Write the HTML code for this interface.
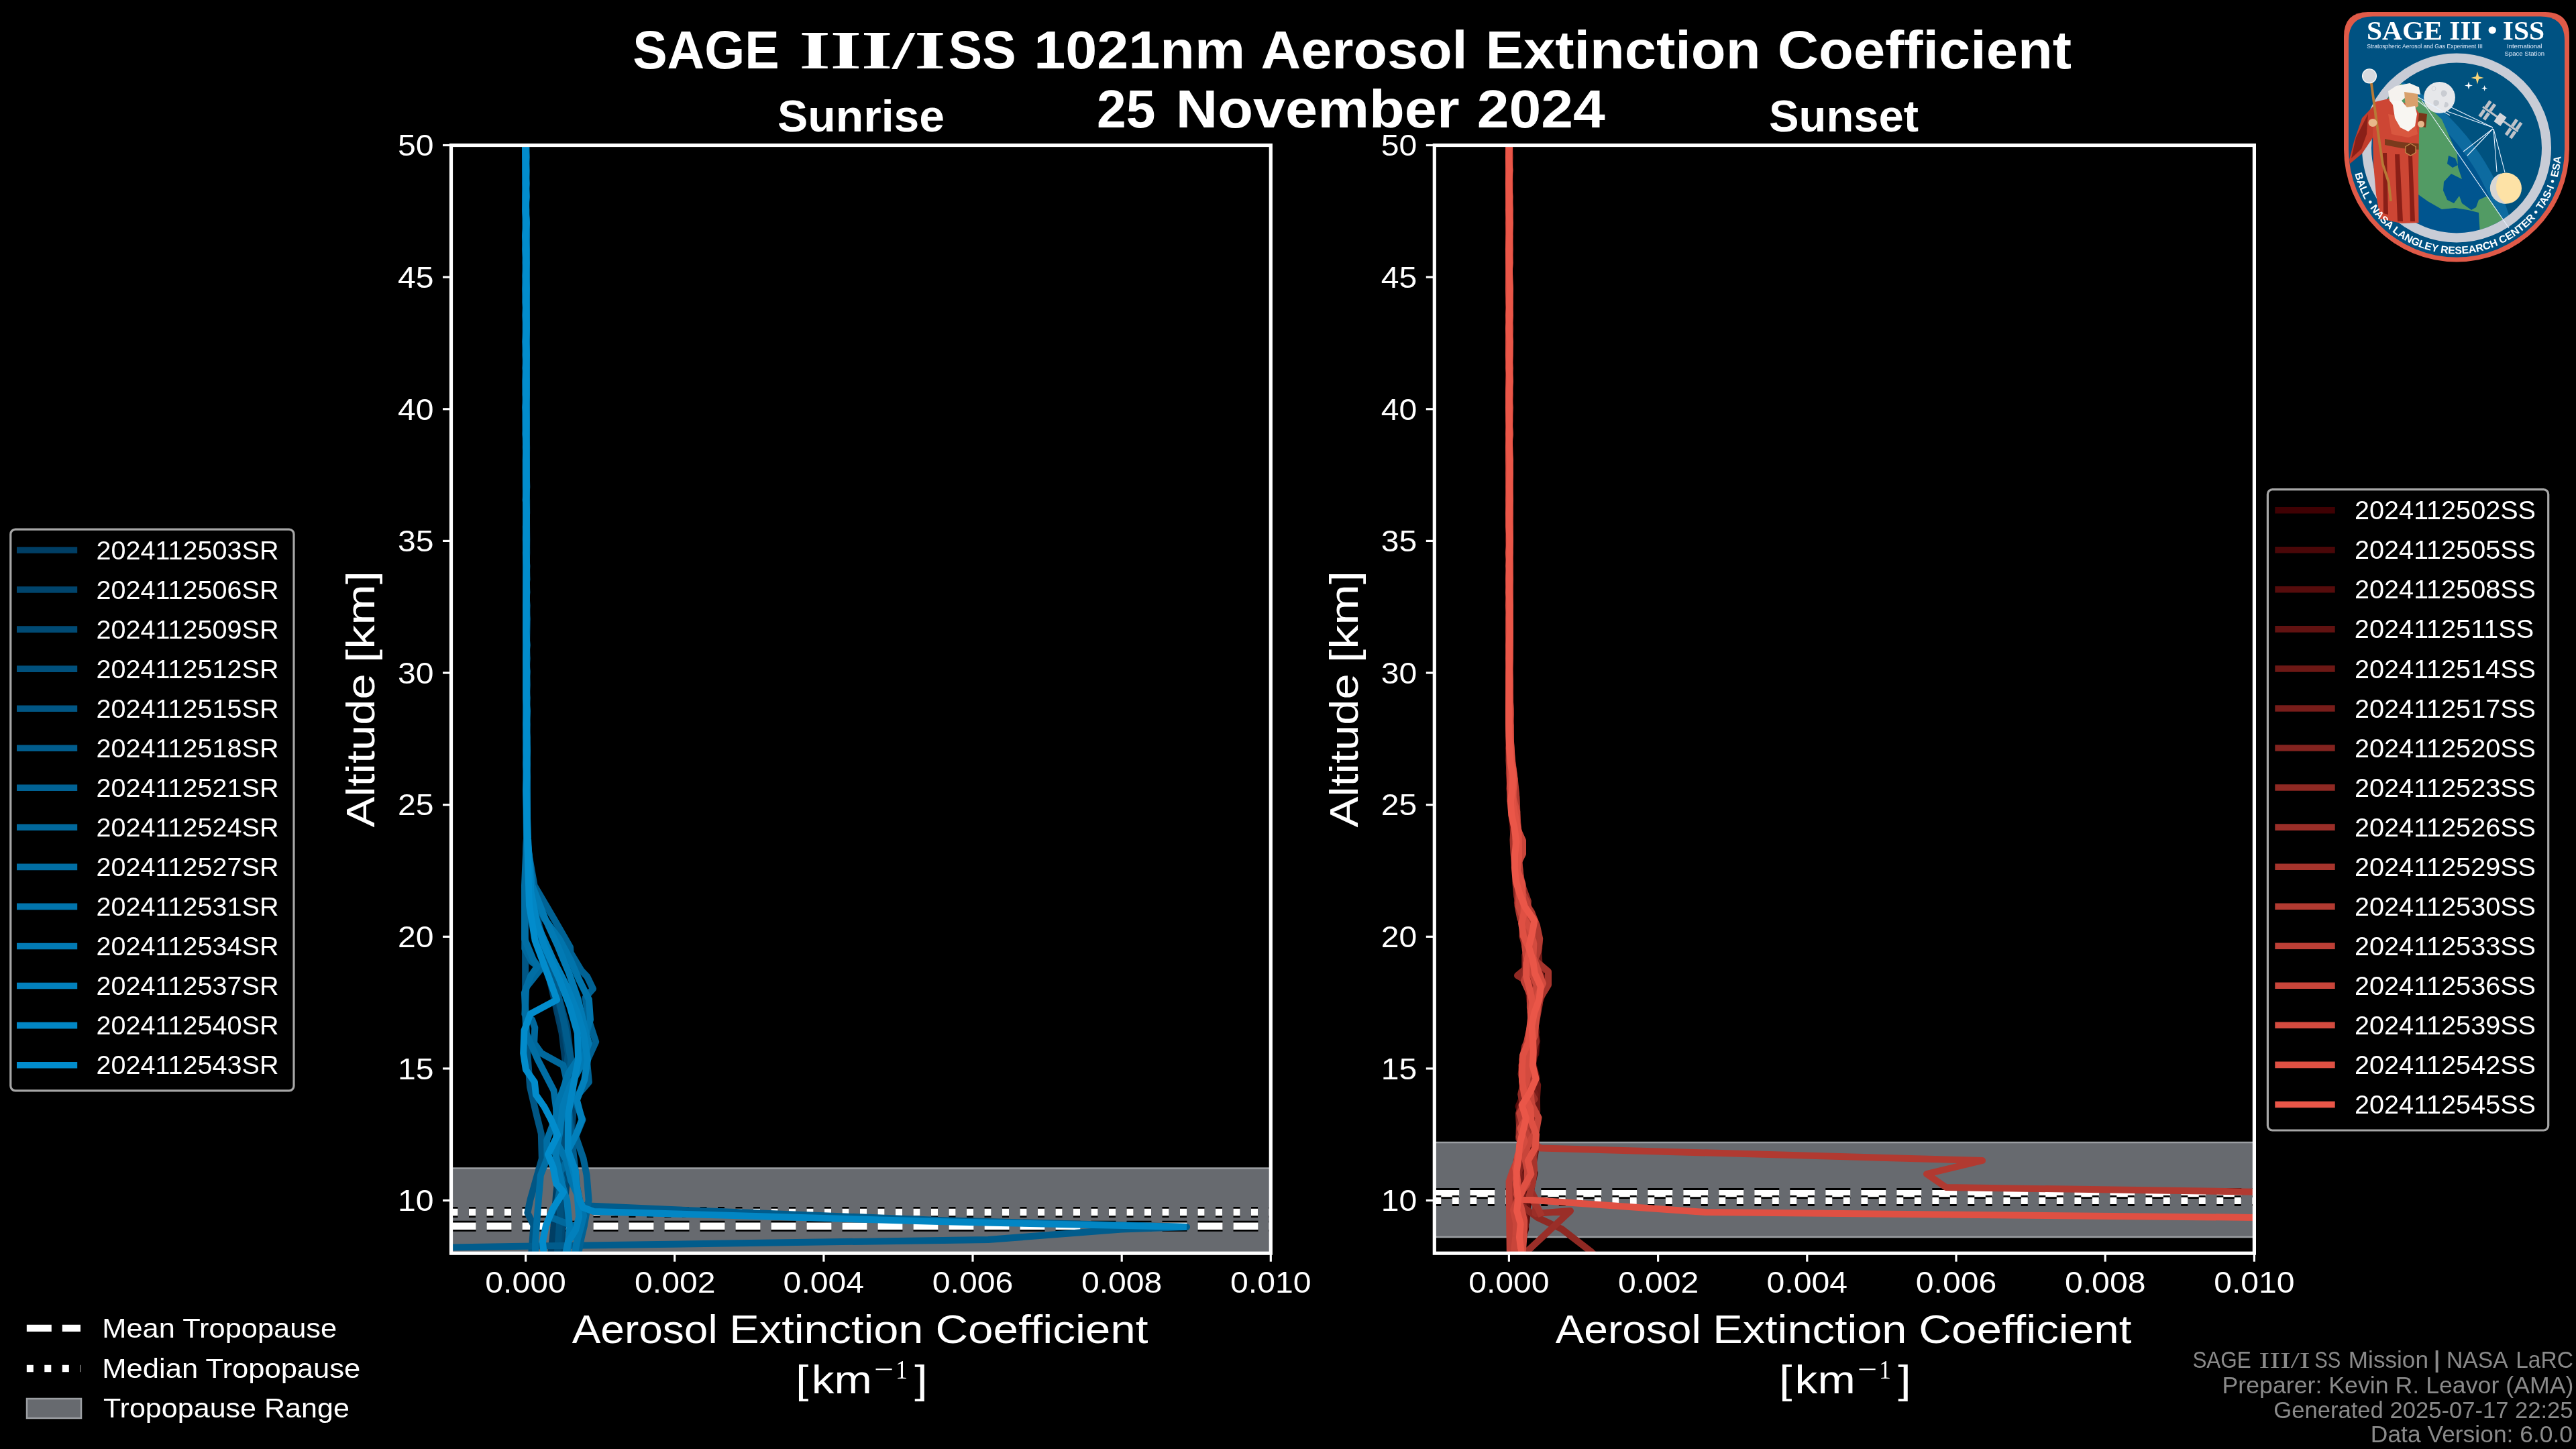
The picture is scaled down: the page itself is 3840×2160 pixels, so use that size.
<!DOCTYPE html>
<html><head><meta charset="utf-8"><title>SAGE III/ISS 1021nm Aerosol Extinction Coefficient</title>
<style>html,body{margin:0;padding:0;background:#000;width:3840px;height:2160px;overflow:hidden}
</style></head>
<body>
<svg width="3840" height="2160" viewBox="0 0 3840 2160" style="display:block;will-change:transform">
<rect width="3840" height="2160" fill="#000"/>
<clipPath id="clip0"><rect x="672.5" y="216.5" width="1221.8" height="1651.7"/></clipPath>
<clipPath id="clip1"><rect x="2138.3" y="216.5" width="1222.1" height="1651.7"/></clipPath>
<g clip-path="url(#clip0)">
<rect x="672.5" y="1741.5" width="1221.8" height="136.70000000000005" fill="#676a6f"/>
<line x1="672.5" x2="1894.3" y1="1741.5" y2="1741.5" stroke="#9c9fa3" stroke-width="2.5"/>
<line x1="672.5" x2="1894.3" y1="1827.7" y2="1827.7" stroke="#000" stroke-width="16" stroke-dasharray="37 16"/><line x1="672.5" x2="1894.3" y1="1827.7" y2="1827.7" stroke="#fff" stroke-width="10.4" stroke-dasharray="37 16"/>
<line x1="672.5" x2="1894.3" y1="1807.0" y2="1807.0" stroke="#000" stroke-width="16" stroke-dasharray="10 16.5"/><line x1="672.5" x2="1894.3" y1="1807.0" y2="1807.0" stroke="#fff" stroke-width="10.4" stroke-dasharray="10 16.5"/>
</g>
<g clip-path="url(#clip1)">
<rect x="2138.3" y="1703.0" width="1222.1" height="141.0" fill="#676a6f"/>
<line x1="2138.3" x2="3360.4" y1="1703.0" y2="1703.0" stroke="#9c9fa3" stroke-width="2.5"/>
<line x1="2138.3" x2="3360.4" y1="1844.0" y2="1844.0" stroke="#9c9fa3" stroke-width="2.5"/>
<line x1="2138.3" x2="3360.4" y1="1779.1" y2="1779.1" stroke="#000" stroke-width="16" stroke-dasharray="37 16"/><line x1="2138.3" x2="3360.4" y1="1779.1" y2="1779.1" stroke="#fff" stroke-width="10.4" stroke-dasharray="37 16"/>
<line x1="2138.3" x2="3360.4" y1="1789.9" y2="1789.9" stroke="#000" stroke-width="16" stroke-dasharray="10 16.5"/><line x1="2138.3" x2="3360.4" y1="1789.9" y2="1789.9" stroke="#fff" stroke-width="10.4" stroke-dasharray="10 16.5"/>
</g>
<g clip-path="url(#clip0)">
<polyline points="784.3,214.5 784.5,234.2 784.0,253.8 783.6,273.5 784.3,293.2 783.8,312.8 784.4,332.5 783.8,352.1 784.1,371.8 784.5,391.5 783.4,411.1 783.9,430.8 784.0,450.5 783.9,470.1 784.8,489.8 783.6,509.4 784.2,529.1 784.0,548.8 783.8,568.4 783.8,588.1 784.9,607.8 784.2,627.4 785.0,647.1 784.2,666.8 784.2,686.4 784.0,706.1 783.9,725.7 783.8,745.4 784.9,765.1 785.1,784.7 785.2,804.4 784.9,824.1 785.1,843.7 784.8,863.4 784.6,883.0 785.3,902.7 784.8,922.4 784.3,942.0 784.8,961.7 785.3,981.4 785.1,1001.0 784.8,1020.7 785.2,1040.4 784.5,1060.0 785.1,1079.7 785.1,1099.3 784.3,1119.0 785.6,1138.7 785.5,1158.3 785.4,1178.0 786.0,1260.0 795.7,1350.0 810.4,1420.0 824.0,1480.0 837.6,1540.0 844.9,1600.0 842.1,1660.0 836.1,1720.0 829.1,1780.0 825.4,1830.0 820.0,1880.0" fill="none" stroke="#003e64" stroke-width="10" stroke-linejoin="round" stroke-linecap="butt" />
<polyline points="784.0,214.5 784.1,234.2 783.5,253.8 784.4,273.5 783.7,293.2 783.8,312.8 784.3,332.5 783.8,352.1 784.7,371.8 784.0,391.5 783.9,411.1 783.4,430.8 784.5,450.5 783.8,470.1 784.1,489.8 784.5,509.4 784.2,529.1 784.9,548.8 784.1,568.4 784.1,588.1 783.8,607.8 783.7,627.4 783.8,647.1 784.5,666.8 783.9,686.4 784.4,706.1 784.0,725.7 784.9,745.4 783.9,765.1 784.9,784.7 785.2,804.4 785.2,824.1 784.6,843.7 785.1,863.4 784.2,883.0 785.3,902.7 785.4,922.4 785.0,942.0 785.4,961.7 784.9,981.4 785.4,1001.0 784.7,1020.7 784.2,1040.4 784.4,1060.0 785.4,1079.7 785.4,1099.3 784.8,1119.0 785.3,1138.7 785.5,1158.3 784.8,1178.0 786.0,1260.0 793.7,1340.0 804.9,1400.0 820.6,1460.0 835.9,1520.0 849.0,1580.0 856.0,1640.0 850.7,1700.0 844.8,1760.0 839.7,1820.0 835.0,1880.0" fill="none" stroke="#00446c" stroke-width="10" stroke-linejoin="round" stroke-linecap="butt" />
<polyline points="783.9,214.5 783.4,234.2 783.7,253.8 784.4,273.5 784.2,293.2 783.5,312.8 784.5,332.5 784.5,352.1 783.4,371.8 784.3,391.5 783.9,411.1 783.5,430.8 783.9,450.5 784.4,470.1 783.6,489.8 784.0,509.4 784.5,529.1 783.9,548.8 784.8,568.4 784.4,588.1 784.5,607.8 783.7,627.4 783.8,647.1 784.5,666.8 784.0,686.4 784.5,706.1 785.0,725.7 784.6,745.4 784.4,765.1 784.0,784.7 784.0,804.4 784.2,824.1 785.2,843.7 785.0,863.4 784.2,883.0 784.0,902.7 785.4,922.4 785.4,942.0 784.8,961.7 784.4,981.4 784.8,1001.0 785.4,1020.7 784.5,1040.4 785.3,1060.0 784.9,1079.7 785.0,1099.3 785.5,1119.0 784.3,1138.7 784.7,1158.3 784.4,1178.0 786.0,1260.0 792.1,1330.0 803.8,1380.0 817.3,1430.0 831.1,1480.0 845.0,1530.0 852.3,1590.0 846.3,1650.0 840.5,1710.0 841.8,1770.0 836.9,1830.0 832.0,1880.0" fill="none" stroke="#004a74" stroke-width="10" stroke-linejoin="round" stroke-linecap="butt" />
<polyline points="783.4,214.5 783.7,234.2 783.5,253.8 783.7,273.5 784.5,293.2 783.3,312.8 784.4,332.5 784.3,352.1 783.4,371.8 783.4,391.5 784.2,411.1 784.7,430.8 784.0,450.5 784.5,470.1 784.6,489.8 784.9,509.4 784.4,529.1 784.1,548.8 784.6,568.4 784.4,588.1 784.3,607.8 784.8,627.4 784.3,647.1 784.6,666.8 784.7,686.4 785.0,706.1 784.0,725.7 784.9,745.4 785.1,765.1 783.9,784.7 784.2,804.4 784.6,824.1 784.5,843.7 785.2,863.4 784.0,883.0 784.0,902.7 785.2,922.4 785.0,942.0 784.7,961.7 784.5,981.4 784.8,1001.0 785.4,1020.7 785.2,1040.4 784.8,1060.0 784.4,1079.7 784.7,1099.3 784.9,1119.0 785.3,1138.7 785.5,1158.3 785.3,1178.0 786.0,1260.0 790.0,1320.0 798.7,1370.0 812.5,1420.0 825.9,1470.0 839.9,1520.0 846.9,1570.0 841.6,1630.0 835.9,1690.0 831.9,1750.0 835.0,1810.0 830.0,1880.0" fill="none" stroke="#00507c" stroke-width="10" stroke-linejoin="round" stroke-linecap="butt" />
<polyline points="783.8,214.5 784.0,234.2 784.3,253.8 784.3,273.5 783.5,293.2 783.5,312.8 784.3,332.5 784.3,352.1 784.2,371.8 784.7,391.5 784.2,411.1 783.8,430.8 783.9,450.5 783.5,470.1 784.6,489.8 784.1,509.4 784.2,529.1 783.8,548.8 784.9,568.4 784.2,588.1 783.7,607.8 784.7,627.4 784.7,647.1 783.8,666.8 784.7,686.4 784.0,706.1 784.1,725.7 785.1,745.4 785.1,765.1 783.9,784.7 784.0,804.4 784.4,824.1 784.1,843.7 785.0,863.4 784.1,883.0 784.3,902.7 784.9,922.4 784.6,942.0 785.0,961.7 784.5,981.4 785.3,1001.0 785.1,1020.7 784.8,1040.4 785.1,1060.0 785.0,1079.7 784.9,1099.3 785.6,1119.0 785.4,1138.7 785.2,1158.3 785.6,1178.0 785.0,1250.0 782.8,1330.0 783.1,1420.0 783.3,1500.0 785.5,1560.0 790.0,1620.0 799.3,1660.0 806.8,1690.0 807.8,1727.0 790.3,1789.0 786.4,1808.0 795.5,1826.6 792.5,1864.0 792.0,1880.0" fill="none" stroke="#015684" stroke-width="10" stroke-linejoin="round" stroke-linecap="butt" />
<polyline points="783.4,214.5 784.4,234.2 783.6,253.8 784.2,273.5 783.7,293.2 784.4,312.8 784.2,332.5 783.4,352.1 784.7,371.8 784.5,391.5 784.0,411.1 784.2,430.8 784.4,450.5 784.5,470.1 784.7,489.8 784.9,509.4 784.8,529.1 783.9,548.8 783.6,568.4 784.0,588.1 783.9,607.8 784.7,627.4 784.7,647.1 785.1,666.8 784.9,686.4 784.8,706.1 785.1,725.7 784.8,745.4 784.3,765.1 784.9,784.7 785.0,804.4 784.3,824.1 784.2,843.7 784.2,863.4 784.0,883.0 785.0,902.7 785.4,922.4 785.1,942.0 784.9,961.7 785.3,981.4 784.7,1001.0 784.6,1020.7 784.1,1040.4 784.4,1060.0 785.1,1079.7 784.8,1099.3 785.6,1119.0 784.3,1138.7 785.5,1158.3 785.4,1178.0 786.0,1260.0 791.0,1330.0 802.0,1380.0 815.1,1430.0 830.9,1480.0 842.2,1530.0 851.2,1580.0 845.7,1630.0 850.4,1680.0 856.0,1730.0 860.2,1770.0 865.6,1797.0 1000.0,1803.0 1400.0,1819.0 1769.0,1829.0 1672.0,1832.5 1473.0,1848.0 560.0,1861.0" fill="none" stroke="#015c8c" stroke-width="10" stroke-linejoin="round" stroke-linecap="butt" />
<polyline points="784.2,214.5 783.9,234.2 783.7,253.8 783.8,273.5 783.6,293.2 783.6,312.8 784.0,332.5 784.3,352.1 784.5,371.8 784.0,391.5 784.7,411.1 783.6,430.8 784.8,450.5 784.6,470.1 784.7,489.8 783.7,509.4 784.4,529.1 784.6,548.8 784.8,568.4 784.7,588.1 783.7,607.8 784.5,627.4 783.8,647.1 784.9,666.8 784.8,686.4 784.4,706.1 785.0,725.7 783.9,745.4 784.5,765.1 784.0,784.7 784.9,804.4 785.1,824.1 784.6,843.7 785.0,863.4 784.0,883.0 784.2,902.7 784.1,922.4 784.6,942.0 784.9,961.7 785.3,981.4 784.6,1001.0 784.8,1020.7 785.1,1040.4 784.5,1060.0 784.9,1079.7 784.6,1099.3 784.8,1119.0 785.1,1138.7 784.9,1158.3 785.1,1178.0 786.0,1260.0 796.6,1320.0 814.3,1350.0 828.8,1375.0 850.0,1412.0 850.6,1420.0 866.8,1447.0 875.3,1456.0 884.0,1474.0 872.6,1487.0 877.5,1520.0 888.2,1553.0 875.0,1582.0 877.9,1613.0 856.5,1638.0 868.5,1669.0 858.2,1694.0 869.6,1727.0 874.6,1752.0 877.6,1789.0 870.9,1827.0 866.7,1845.0 860.0,1880.0" fill="none" stroke="#016294" stroke-width="10" stroke-linejoin="round" stroke-linecap="butt" />
<polyline points="783.8,214.5 784.0,234.2 784.5,253.8 783.9,273.5 783.6,293.2 783.8,312.8 784.6,332.5 784.2,352.1 784.6,371.8 783.9,391.5 784.4,411.1 784.7,430.8 783.6,450.5 784.6,470.1 784.7,489.8 784.9,509.4 783.7,529.1 783.8,548.8 784.9,568.4 784.2,588.1 784.0,607.8 784.6,627.4 784.1,647.1 784.2,666.8 784.3,686.4 784.0,706.1 784.9,725.7 784.7,745.4 784.0,765.1 784.1,784.7 783.9,804.4 784.5,824.1 784.9,843.7 784.6,863.4 784.2,883.0 784.8,902.7 785.0,922.4 784.0,942.0 784.2,961.7 784.6,981.4 784.7,1001.0 784.9,1020.7 785.0,1040.4 784.7,1060.0 785.0,1079.7 784.9,1099.3 784.3,1119.0 784.5,1138.7 784.7,1158.3 784.9,1178.0 785.0,1250.0 783.9,1300.0 782.7,1350.0 782.2,1414.0 792.9,1434.0 806.6,1444.0 784.3,1472.0 782.3,1512.0 793.1,1520.0 797.3,1532.0 796.1,1555.0 806.9,1570.0 839.5,1588.0 847.0,1620.0 838.9,1660.0 829.8,1700.0 828.3,1702.0 845.0,1730.0 835.0,1748.0 838.1,1760.0 831.0,1790.0 819.3,1814.0 852.9,1827.0 861.1,1850.0 855.0,1880.0" fill="none" stroke="#01689c" stroke-width="10" stroke-linejoin="round" stroke-linecap="butt" />
<polyline points="783.9,214.5 784.1,234.2 783.9,253.8 783.4,273.5 783.8,293.2 783.4,312.8 784.2,332.5 783.8,352.1 784.6,371.8 784.2,391.5 784.4,411.1 783.9,430.8 784.2,450.5 784.7,470.1 784.0,489.8 784.7,509.4 784.9,529.1 784.0,548.8 784.6,568.4 783.8,588.1 784.9,607.8 784.7,627.4 783.7,647.1 784.6,666.8 784.0,686.4 784.9,706.1 784.5,725.7 784.5,745.4 784.2,765.1 784.2,784.7 784.8,804.4 783.9,824.1 784.3,843.7 784.6,863.4 785.2,883.0 784.1,902.7 784.1,922.4 784.5,942.0 785.3,961.7 784.2,981.4 785.2,1001.0 785.4,1020.7 784.9,1040.4 784.6,1060.0 785.5,1079.7 784.8,1099.3 784.4,1119.0 785.5,1138.7 784.6,1158.3 784.4,1178.0 785.0,1250.0 782.0,1320.0 782.1,1400.0 794.6,1430.0 801.5,1440.0 791.0,1455.0 781.9,1480.0 784.4,1540.0 801.8,1580.0 825.5,1625.6 830.2,1660.0 815.1,1700.0 815.6,1727.0 805.8,1752.0 801.7,1802.0 798.1,1851.5 798.0,1880.0" fill="none" stroke="#016ea4" stroke-width="10" stroke-linejoin="round" stroke-linecap="butt" />
<polyline points="784.1,214.5 784.5,234.2 783.5,253.8 783.5,273.5 783.4,293.2 784.1,312.8 784.1,332.5 784.3,352.1 784.3,371.8 783.8,391.5 783.8,411.1 784.7,430.8 784.3,450.5 783.5,470.1 783.9,489.8 783.8,509.4 784.1,529.1 783.9,548.8 783.6,568.4 783.8,588.1 784.3,607.8 784.3,627.4 784.3,647.1 784.4,666.8 784.6,686.4 784.8,706.1 785.2,725.7 784.1,745.4 784.6,765.1 784.1,784.7 783.9,804.4 784.1,824.1 784.3,843.7 784.9,863.4 785.2,883.0 784.5,902.7 785.0,922.4 784.5,942.0 784.4,961.7 784.4,981.4 785.3,1001.0 784.4,1020.7 784.9,1040.4 785.5,1060.0 784.8,1079.7 785.2,1099.3 785.5,1119.0 784.8,1138.7 784.9,1158.3 785.5,1178.0 786.0,1260.0 794.2,1330.0 812.0,1370.0 834.0,1400.0 850.1,1430.0 863.0,1460.0 877.9,1490.0 880.0,1520.0 870.8,1550.0 860.7,1580.0 847.3,1600.0 839.0,1625.0 829.3,1650.0 829.2,1702.0 844.4,1730.0 851.2,1760.0 862.6,1785.0 870.2,1812.0 865.9,1830.0 860.0,1850.0 855.0,1880.0" fill="none" stroke="#0174ac" stroke-width="10" stroke-linejoin="round" stroke-linecap="butt" />
<polyline points="784.1,214.5 783.9,234.2 784.3,253.8 783.8,273.5 784.3,293.2 783.5,312.8 784.5,332.5 784.6,352.1 784.2,371.8 784.1,391.5 783.6,411.1 784.4,430.8 784.7,450.5 784.8,470.1 784.1,489.8 783.8,509.4 784.7,529.1 784.3,548.8 784.2,568.4 784.4,588.1 783.8,607.8 784.8,627.4 784.9,647.1 784.3,666.8 784.5,686.4 784.7,706.1 784.9,725.7 785.0,745.4 784.7,765.1 784.6,784.7 784.6,804.4 784.6,824.1 784.5,843.7 784.9,863.4 784.3,883.0 784.0,902.7 784.2,922.4 784.3,942.0 784.3,961.7 784.4,981.4 784.3,1001.0 784.2,1020.7 785.2,1040.4 784.8,1060.0 784.2,1079.7 784.6,1099.3 784.9,1119.0 784.4,1138.7 785.6,1158.3 785.4,1178.0 786.0,1250.0 793.4,1320.0 812.9,1370.0 831.4,1410.0 848.0,1450.0 861.8,1490.0 871.2,1530.0 877.8,1555.0 865.5,1590.0 849.3,1620.0 838.8,1650.0 834.0,1690.0 828.0,1720.0 836.2,1760.0 845.2,1790.0 849.2,1830.0 845.0,1880.0" fill="none" stroke="#027ab4" stroke-width="10" stroke-linejoin="round" stroke-linecap="butt" />
<polyline points="783.3,214.5 783.3,234.2 783.5,253.8 784.3,273.5 783.5,293.2 783.7,312.8 784.5,332.5 783.5,352.1 784.1,371.8 784.5,391.5 783.8,411.1 783.5,430.8 783.5,450.5 784.6,470.1 784.1,489.8 783.6,509.4 783.6,529.1 784.8,548.8 784.7,568.4 785.0,588.1 784.5,607.8 784.7,627.4 784.5,647.1 784.2,666.8 783.8,686.4 783.8,706.1 783.9,725.7 784.2,745.4 784.3,765.1 784.2,784.7 784.6,804.4 784.6,824.1 784.9,843.7 785.3,863.4 784.1,883.0 784.5,902.7 785.2,922.4 784.2,942.0 784.1,961.7 785.2,981.4 784.6,1001.0 784.2,1020.7 784.2,1040.4 785.5,1060.0 785.1,1079.7 784.4,1099.3 785.6,1119.0 785.0,1138.7 785.3,1158.3 785.1,1178.0 786.0,1250.0 789.7,1330.0 801.9,1380.0 824.2,1430.0 844.9,1470.0 860.7,1510.0 869.9,1540.0 876.0,1580.0 871.2,1610.0 859.9,1640.0 867.5,1669.0 857.7,1694.0 846.7,1715.0 859.3,1764.0 863.1,1814.0 858.3,1833.0 846.8,1851.5 840.7,1880.0" fill="none" stroke="#0280bc" stroke-width="10" stroke-linejoin="round" stroke-linecap="butt" />
<polyline points="783.2,214.5 783.8,234.2 783.7,253.8 783.8,273.5 784.5,293.2 783.8,312.8 783.5,332.5 783.7,352.1 783.3,371.8 784.4,391.5 784.1,411.1 784.0,430.8 784.2,450.5 784.5,470.1 784.7,489.8 783.9,509.4 784.7,529.1 783.7,548.8 784.8,568.4 784.5,588.1 783.7,607.8 783.7,627.4 784.0,647.1 784.7,666.8 784.3,686.4 784.4,706.1 784.6,725.7 783.8,745.4 785.0,765.1 785.0,784.7 784.9,804.4 784.5,824.1 785.0,843.7 784.7,863.4 784.5,883.0 785.3,902.7 784.3,922.4 784.2,942.0 784.7,961.7 784.2,981.4 784.2,1001.0 784.6,1020.7 785.4,1040.4 785.1,1060.0 784.4,1079.7 785.4,1099.3 785.5,1119.0 785.4,1138.7 785.0,1158.3 784.6,1178.0 787.0,1250.0 791.6,1330.0 799.1,1370.0 811.3,1410.0 833.9,1460.0 849.4,1500.0 860.8,1540.0 862.1,1580.0 854.3,1620.0 847.2,1660.0 846.8,1700.0 846.8,1715.0 858.0,1746.0 858.9,1764.5 863.9,1789.0 869.1,1800.0 885.0,1806.0 1400.0,1821.0 1769.0,1829.0" fill="none" stroke="#0286c4" stroke-width="10" stroke-linejoin="round" stroke-linecap="butt" />
<polyline points="783.2,214.5 783.4,234.2 784.1,253.8 784.2,273.5 784.1,293.2 783.7,312.8 784.6,332.5 783.3,352.1 784.3,371.8 784.4,391.5 784.4,411.1 784.7,430.8 784.2,450.5 784.2,470.1 784.8,489.8 784.0,509.4 784.7,529.1 784.5,548.8 783.8,568.4 783.7,588.1 783.7,607.8 784.0,627.4 783.8,647.1 784.0,666.8 784.5,686.4 784.5,706.1 784.8,725.7 784.0,745.4 785.0,765.1 784.4,784.7 784.5,804.4 784.2,824.1 785.2,843.7 784.5,863.4 785.1,883.0 784.0,902.7 784.5,922.4 784.2,942.0 785.4,961.7 784.2,981.4 785.2,1001.0 784.7,1020.7 784.6,1040.4 785.4,1060.0 785.1,1079.7 785.4,1099.3 785.0,1119.0 785.2,1138.7 785.2,1158.3 784.4,1178.0 786.0,1250.0 789.0,1350.0 797.6,1402.0 817.5,1455.6 830.1,1490.4 790.6,1511.5 781.5,1536.0 780.2,1570.0 783.9,1594.5 796.9,1613.0 798.9,1632.0 811.4,1650.0 821.4,1669.0 831.3,1692.0 817.0,1721.0 824.5,1740.0 829.2,1764.5 840.0,1777.0 824.1,1801.8 814.0,1826.6 808.9,1851.5 812.0,1880.0" fill="none" stroke="#028ccc" stroke-width="10" stroke-linejoin="round" stroke-linecap="butt" />
</g>
<g clip-path="url(#clip1)">
<polyline points="2249.1,214.5 2249.2,234.2 2250.1,253.8 2250.4,273.5 2250.0,293.2 2249.5,312.8 2248.9,332.5 2250.4,352.1 2249.1,371.8 2249.2,391.5 2249.4,411.1 2249.6,430.8 2250.5,450.5 2249.5,470.1 2250.1,489.8 2250.1,509.4 2249.6,529.1 2249.6,548.8 2249.8,568.4 2249.2,588.1 2250.0,607.8 2249.2,627.4 2250.1,647.1 2250.6,666.8 2250.7,686.4 2250.1,706.1 2249.9,725.7 2250.0,745.4 2250.2,765.1 2250.7,784.7 2249.5,804.4 2250.8,824.1 2250.8,843.7 2249.9,863.4 2250.5,883.0 2250.0,902.7 2250.5,922.4 2250.8,942.0 2249.8,961.7 2249.9,981.4 2250.3,1006.1 2249.9,1025.8 2250.3,1045.5 2249.6,1065.1 2250.0,1084.8 2250.0,1104.5 2249.5,1124.1 2250.2,1143.8 2250.3,1163.4 2251.2,1183.1 2255.6,1202.8 2259.1,1222.4 2258.9,1242.1 2260.8,1261.8 2261.1,1281.4 2260.5,1301.1 2266.1,1320.7 2270.5,1340.4 2283.6,1360.1 2284.5,1379.7 2294.4,1399.4 2291.1,1419.1 2285.7,1438.7 2296.3,1458.4 2294.1,1478.1 2295.3,1497.7 2289.2,1517.4 2284.2,1537.0 2275.2,1556.7 2277.8,1576.4 2274.2,1596.0 2269.1,1615.7 2270.4,1635.4 2280.2,1655.0 2268.2,1674.7 2276.3,1694.3 2274.2,1714.0 2271.6,1733.7 2269.0,1753.3 2270.3,1773.0 2277.7,1792.7 2274.1,1812.3 2274.2,1832.0 2268.5,1851.7 2268.3,1871.3" fill="none" stroke="#3f0103" stroke-width="10" stroke-linejoin="round" stroke-linecap="butt" />
<polyline points="2250.2,214.5 2249.7,234.2 2249.1,253.8 2249.9,273.5 2249.3,293.2 2249.8,312.8 2250.7,332.5 2249.9,352.1 2249.0,371.8 2249.3,391.5 2250.6,411.1 2249.2,430.8 2249.7,450.5 2249.1,470.1 2249.6,489.8 2249.7,509.4 2250.8,529.1 2250.7,548.8 2249.2,568.4 2250.4,588.1 2249.5,607.8 2250.0,627.4 2250.0,647.1 2250.1,666.8 2250.1,686.4 2249.9,706.1 2249.9,725.7 2249.9,745.4 2249.5,765.1 2249.5,784.7 2249.2,804.4 2250.4,824.1 2250.9,843.7 2251.0,863.4 2250.5,883.0 2250.5,902.7 2250.6,922.4 2250.7,942.0 2249.7,961.7 2250.2,981.4 2250.3,1001.0 2251.1,1020.6 2251.2,1040.3 2251.1,1060.0 2251.3,1079.6 2251.1,1099.3 2251.9,1119.0 2255.0,1138.6 2256.9,1158.3 2258.0,1177.9 2260.4,1197.6 2260.6,1217.3 2260.5,1236.9 2258.8,1256.6 2259.6,1276.3 2259.9,1295.9 2260.0,1315.6 2264.2,1335.3 2267.6,1354.9 2274.0,1374.6 2290.5,1394.2 2294.3,1413.9 2289.0,1433.6 2280.3,1453.2 2278.1,1472.9 2280.4,1492.6 2285.8,1512.2 2288.0,1531.9 2291.2,1551.5 2289.3,1571.2 2277.0,1590.9 2275.1,1610.5 2276.8,1630.2 2263.5,1649.9 2274.6,1669.5 2268.9,1689.2 2271.2,1708.9 2277.1,1728.5 2287.7,1748.2 2283.2,1767.8 2279.9,1787.5 2274.7,1807.2 2272.2,1826.8 2271.2,1846.5 2268.5,1866.2 2266.2,1885.8" fill="none" stroke="#4a0708" stroke-width="10" stroke-linejoin="round" stroke-linecap="butt" />
<polyline points="2250.2,214.5 2250.3,234.2 2249.1,253.8 2250.5,273.5 2250.4,293.2 2250.4,312.8 2250.2,332.5 2250.7,352.1 2250.4,371.8 2250.6,391.5 2249.7,411.1 2249.1,430.8 2250.8,450.5 2250.3,470.1 2250.7,489.8 2250.5,509.4 2250.8,529.1 2250.3,548.8 2249.2,568.4 2250.4,588.1 2249.8,607.8 2250.6,627.4 2249.2,647.1 2250.1,666.8 2249.5,686.4 2249.3,706.1 2250.3,725.7 2250.7,745.4 2249.4,765.1 2250.0,784.7 2250.2,804.4 2250.3,824.1 2250.9,843.7 2249.4,863.4 2250.1,883.0 2249.5,902.7 2250.6,922.4 2250.6,942.0 2250.4,961.7 2249.6,981.4 2250.2,1018.4 2250.8,1038.1 2250.5,1057.7 2249.5,1077.4 2250.2,1097.0 2249.5,1116.7 2251.1,1136.4 2252.5,1156.0 2250.1,1175.7 2253.7,1195.4 2253.3,1215.0 2255.4,1234.7 2257.9,1254.3 2260.1,1274.0 2258.4,1293.7 2260.1,1313.3 2264.5,1333.0 2268.8,1352.7 2269.2,1372.3 2275.1,1392.0 2288.5,1411.7 2292.9,1431.3 2295.8,1451.0 2302.2,1470.6 2296.6,1490.3 2286.7,1510.0 2282.3,1529.6 2277.1,1549.3 2278.5,1569.0 2267.9,1588.6 2270.7,1608.3 2272.6,1627.9 2264.2,1647.6 2268.5,1667.3 2271.2,1686.9 2269.0,1706.6 2278.1,1726.3 2279.0,1745.9 2279.0,1765.6 2266.9,1785.2 2260.9,1804.9 2257.0,1824.6 2263.2,1844.2 2256.4,1863.9 2255.0,1883.6" fill="none" stroke="#560c0c" stroke-width="10" stroke-linejoin="round" stroke-linecap="butt" />
<polyline points="2248.9,214.5 2249.1,234.2 2250.6,253.8 2249.3,273.5 2249.0,293.2 2249.1,312.8 2249.8,332.5 2249.6,352.1 2250.2,371.8 2249.5,391.5 2249.2,411.1 2250.4,430.8 2249.2,450.5 2250.0,470.1 2250.4,489.8 2249.4,509.4 2249.4,529.1 2249.8,548.8 2249.3,568.4 2250.2,588.1 2250.1,607.8 2250.6,627.4 2249.2,647.1 2250.1,666.8 2249.3,686.4 2250.8,706.1 2250.2,725.7 2249.8,745.4 2250.4,765.1 2250.1,784.7 2249.8,804.4 2249.9,824.1 2249.6,843.7 2251.0,863.4 2250.1,883.0 2249.2,902.7 2250.5,922.4 2249.6,942.0 2250.6,961.7 2250.6,981.4 2250.6,1015.4 2249.9,1035.1 2249.1,1054.7 2249.1,1074.4 2250.1,1094.1 2249.1,1113.7 2250.4,1133.4 2249.7,1153.0 2252.7,1172.7 2251.0,1192.4 2253.5,1212.0 2255.7,1231.7 2256.2,1251.4 2259.3,1271.0 2260.4,1290.7 2261.7,1310.3 2265.1,1330.0 2267.1,1349.7 2277.1,1369.3 2284.9,1389.0 2278.0,1408.7 2277.6,1428.3 2284.5,1448.0 2286.8,1467.7 2284.8,1487.3 2282.6,1507.0 2285.9,1526.6 2289.6,1546.3 2288.6,1566.0 2285.1,1585.6 2290.3,1605.3 2289.5,1625.0 2275.6,1644.6 2283.9,1664.3 2287.2,1683.9 2286.4,1703.6 2276.6,1723.3 2269.0,1742.9 2266.2,1762.6 2270.6,1782.3 2277.1,1801.9 2275.2,1821.6 2265.9,1841.2 2259.2,1860.9 2254.3,1880.6" fill="none" stroke="#611211" stroke-width="10" stroke-linejoin="round" stroke-linecap="butt" />
<polyline points="2250.3,214.5 2249.5,234.2 2250.2,253.8 2249.4,273.5 2249.6,293.2 2250.5,312.8 2249.5,332.5 2250.5,352.1 2249.2,371.8 2249.6,391.5 2249.1,411.1 2249.3,430.8 2250.2,450.5 2250.1,470.1 2249.6,489.8 2249.4,509.4 2250.7,529.1 2249.7,548.8 2250.1,568.4 2250.7,588.1 2250.8,607.8 2250.0,627.4 2250.1,647.1 2249.8,666.8 2249.8,686.4 2249.6,706.1 2250.3,725.7 2249.4,745.4 2250.9,765.1 2250.3,784.7 2249.2,804.4 2250.4,824.1 2250.4,843.7 2250.4,863.4 2249.8,883.0 2250.2,902.7 2249.6,922.4 2250.4,942.0 2249.8,961.7 2250.5,981.4 2249.8,1007.9 2249.8,1027.6 2250.6,1047.2 2251.6,1066.9 2251.3,1086.6 2251.8,1106.2 2253.1,1125.9 2255.0,1145.6 2256.7,1165.2 2254.7,1184.9 2256.1,1204.6 2258.7,1224.2 2258.4,1243.9 2262.7,1263.5 2262.6,1283.2 2261.8,1302.9 2265.1,1322.5 2272.0,1342.2 2274.8,1361.9 2287.0,1381.5 2295.1,1401.2 2293.4,1420.8 2294.8,1440.5 2299.3,1460.2 2300.0,1479.8 2290.3,1499.5 2288.0,1519.2 2289.9,1538.8 2284.5,1558.5 2282.5,1578.2 2285.1,1597.8 2292.2,1617.5 2290.9,1637.1 2291.2,1656.8 2276.5,1676.5 2284.1,1696.1 2289.0,1715.8 2285.4,1735.5 2270.5,1755.1 2266.1,1774.8 2266.1,1794.4 2255.8,1814.1 2254.9,1833.8 2256.7,1853.4 2256.1,1873.1" fill="none" stroke="#6d1815" stroke-width="10" stroke-linejoin="round" stroke-linecap="butt" />
<polyline points="2250.2,214.5 2248.9,234.2 2249.4,253.8 2249.6,273.5 2249.4,293.2 2250.6,312.8 2250.2,332.5 2250.3,352.1 2250.4,371.8 2249.7,391.5 2249.1,411.1 2250.6,430.8 2249.8,450.5 2249.5,470.1 2249.3,489.8 2250.6,509.4 2250.2,529.1 2249.8,548.8 2250.0,568.4 2250.0,588.1 2249.9,607.8 2249.8,627.4 2249.7,647.1 2249.9,666.8 2249.3,686.4 2250.8,706.1 2250.2,725.7 2250.1,745.4 2250.3,765.1 2249.2,784.7 2250.9,804.4 2249.6,824.1 2250.8,843.7 2250.4,863.4 2250.3,883.0 2249.7,902.7 2250.5,922.4 2250.7,942.0 2249.6,961.7 2249.9,981.4 2249.2,1002.5 2249.3,1022.2 2250.2,1041.8 2251.4,1061.5 2250.6,1081.2 2249.7,1100.8 2250.6,1120.5 2253.3,1140.2 2257.1,1159.8 2258.9,1179.5 2260.4,1199.2 2260.9,1218.8 2263.2,1238.5 2264.0,1258.1 2264.3,1277.8 2263.4,1297.5 2263.7,1317.1 2264.2,1336.8 2265.3,1356.5 2277.5,1376.1 2269.4,1395.8 2281.3,1415.4 2288.0,1435.1 2281.4,1454.8 2292.8,1474.4 2294.8,1494.1 2290.2,1513.8 2287.8,1533.4 2289.9,1553.1 2282.2,1572.7 2275.8,1592.4 2278.4,1612.1 2288.7,1631.7 2276.8,1651.4 2268.3,1671.1 2268.4,1690.7 2270.3,1710.4 2260.6,1730.1 2264.6,1749.7 2269.0,1769.4 2270.1,1789.0 2272.1,1808.7 2273.8,1828.4 2268.1,1848.0 2265.0,1867.7 2263.2,1887.4" fill="none" stroke="#781d1a" stroke-width="10" stroke-linejoin="round" stroke-linecap="butt" />
<polyline points="2250.0,214.5 2250.4,234.2 2249.3,253.8 2250.1,273.5 2249.8,293.2 2249.9,312.8 2249.1,332.5 2249.9,352.1 2249.7,371.8 2249.4,391.5 2249.6,411.1 2249.5,430.8 2249.2,450.5 2250.6,470.1 2249.1,489.8 2249.5,509.4 2249.7,529.1 2249.8,548.8 2249.1,568.4 2249.4,588.1 2249.8,607.8 2249.9,627.4 2250.2,647.1 2249.3,666.8 2249.4,686.4 2249.6,706.1 2250.7,725.7 2249.6,745.4 2250.4,765.1 2249.4,784.7 2249.4,804.4 2249.6,824.1 2250.1,843.7 2249.3,863.4 2250.6,883.0 2249.4,902.7 2250.5,922.4 2250.0,942.0 2250.3,961.7 2251.0,981.4 2250.0,1011.2 2249.4,1030.9 2250.1,1050.5 2250.7,1070.2 2251.4,1089.9 2251.9,1109.5 2251.9,1129.2 2253.3,1148.9 2255.2,1168.5 2260.4,1188.2 2261.3,1207.8 2261.3,1227.5 2262.3,1247.2 2262.7,1266.8 2261.4,1286.5 2260.1,1306.2 2263.9,1325.8 2261.9,1345.5 2268.0,1365.2 2278.7,1384.8 2280.7,1404.5 2273.3,1424.1 2273.4,1443.8 2274.3,1463.5 2280.5,1483.1 2281.7,1502.8 2285.2,1522.5 2287.4,1542.1 2278.0,1561.8 2270.4,1581.4 2267.6,1601.1 2271.7,1620.8 2270.3,1640.4 2263.9,1660.1 2265.0,1679.8 2268.6,1699.4 2265.9,1719.1 2271.0,1731.0 2264.0,1747.0 2260.0,1755.0 2256.0,1800.0 2253.0,1885.0" fill="none" stroke="#83231f" stroke-width="10" stroke-linejoin="round" stroke-linecap="butt" />
<polyline points="2248.9,214.5 2250.0,234.2 2249.5,253.8 2250.2,273.5 2249.7,293.2 2248.9,312.8 2250.5,332.5 2249.9,352.1 2250.4,371.8 2250.6,391.5 2249.1,411.1 2249.8,430.8 2250.1,450.5 2249.5,470.1 2249.8,489.8 2250.6,509.4 2250.1,529.1 2249.5,548.8 2250.2,568.4 2249.5,588.1 2250.2,607.8 2249.9,627.4 2250.1,647.1 2249.8,666.8 2250.2,686.4 2250.0,706.1 2249.3,725.7 2250.3,745.4 2250.0,765.1 2250.0,784.7 2250.7,804.4 2250.3,824.1 2250.1,843.7 2249.2,863.4 2250.4,883.0 2249.8,902.7 2250.3,922.4 2249.3,942.0 2250.2,961.7 2250.1,981.4 2250.7,1001.9 2250.6,1021.6 2250.4,1041.3 2250.2,1060.9 2250.8,1080.6 2251.6,1100.3 2251.5,1119.9 2251.5,1139.6 2253.2,1159.3 2255.2,1178.9 2256.0,1198.6 2256.8,1218.2 2259.1,1237.9 2257.3,1257.6 2261.9,1277.2 2260.2,1296.9 2259.4,1316.6 2261.3,1336.2 2265.9,1355.9 2270.3,1375.5 2269.4,1395.2 2274.6,1414.9 2285.8,1434.5 2262.0,1454.2 2294.9,1473.9 2284.9,1493.5 2288.3,1513.2 2287.8,1532.9 2289.9,1552.5 2283.8,1572.2 2272.7,1591.8 2271.7,1611.5 2267.2,1631.2 2270.8,1650.8 2270.0,1670.5 2267.1,1690.2 2269.6,1709.8 2263.7,1729.5 2263.2,1749.1 2258.5,1768.8 2255.7,1788.5 2292.0,1815.0 2328.0,1832.0 2372.0,1866.0 2390.0,1885.0" fill="none" stroke="#8f2923" stroke-width="10" stroke-linejoin="round" stroke-linecap="butt" />
<polyline points="2249.1,214.5 2250.4,234.2 2250.3,253.8 2250.0,273.5 2249.4,293.2 2249.5,312.8 2250.6,332.5 2250.0,352.1 2249.6,371.8 2250.0,391.5 2249.5,411.1 2249.4,430.8 2249.0,450.5 2250.7,470.1 2249.4,489.8 2249.8,509.4 2250.7,529.1 2250.2,548.8 2249.8,568.4 2250.7,588.1 2249.3,607.8 2249.6,627.4 2249.7,647.1 2249.3,666.8 2249.3,686.4 2250.6,706.1 2250.3,725.7 2250.0,745.4 2249.4,765.1 2249.4,784.7 2250.5,804.4 2250.6,824.1 2251.0,843.7 2250.3,863.4 2250.9,883.0 2250.8,902.7 2249.3,922.4 2249.4,942.0 2249.5,961.7 2250.7,981.4 2249.4,1009.2 2250.4,1028.9 2249.7,1048.6 2249.1,1068.2 2249.8,1087.9 2250.3,1107.5 2252.3,1127.2 2256.0,1146.9 2257.6,1166.5 2259.5,1186.2 2260.4,1205.9 2262.2,1225.5 2263.9,1245.2 2263.1,1264.8 2264.5,1284.5 2266.1,1304.2 2270.6,1323.8 2277.9,1343.5 2276.4,1363.2 2280.9,1382.8 2272.8,1402.5 2276.9,1422.2 2275.3,1441.8 2271.6,1461.5 2285.5,1481.1 2281.1,1500.8 2285.5,1520.5 2282.1,1540.1 2273.1,1559.8 2269.4,1579.5 2273.5,1599.1 2276.4,1618.8 2287.6,1638.4 2272.6,1658.1 2264.9,1677.8 2264.3,1697.4 2274.0,1717.1 2279.4,1736.8 2278.0,1756.4 2282.7,1776.1 2290.0,1790.0 2288.6,1809.0 2341.0,1805.0 2278.0,1864.0 2268.0,1885.0" fill="none" stroke="#9a2e28" stroke-width="10" stroke-linejoin="round" stroke-linecap="butt" />
<polyline points="2249.8,214.5 2249.3,234.2 2249.3,253.8 2249.2,273.5 2249.8,293.2 2250.3,312.8 2248.9,332.5 2250.3,352.1 2249.9,371.8 2250.7,391.5 2249.1,411.1 2250.7,430.8 2250.6,450.5 2249.1,470.1 2250.7,489.8 2249.6,509.4 2249.0,529.1 2249.7,548.8 2250.6,568.4 2249.2,588.1 2250.4,607.8 2250.2,627.4 2249.7,647.1 2249.4,666.8 2249.2,686.4 2249.3,706.1 2249.5,725.7 2249.4,745.4 2250.1,765.1 2249.6,784.7 2250.3,804.4 2249.3,824.1 2250.7,843.7 2250.8,863.4 2250.0,883.0 2250.9,902.7 2249.9,922.4 2249.4,942.0 2249.4,961.7 2250.3,981.4 2249.3,1015.8 2249.4,1035.5 2249.1,1055.2 2249.3,1074.8 2249.9,1094.5 2249.9,1114.2 2249.5,1133.8 2250.5,1153.5 2251.2,1173.1 2254.2,1192.8 2256.1,1212.5 2256.9,1232.1 2255.5,1251.8 2256.5,1271.5 2258.1,1291.1 2263.5,1310.8 2264.6,1330.4 2262.5,1350.1 2266.4,1369.8 2276.6,1389.4 2279.9,1409.1 2285.2,1428.8 2308.0,1448.4 2308.0,1468.1 2296.0,1487.8 2292.8,1507.4 2289.3,1527.1 2286.1,1546.7 2283.7,1566.4 2273.2,1586.1 2268.9,1605.7 2274.0,1625.4 2276.3,1645.1 2270.9,1664.7 2282.1,1684.4 2289.7,1704.0 2285.6,1723.7 2287.1,1743.4 2284.7,1763.0 2279.7,1782.7 2292.0,1800.0 2298.0,1813.0" fill="none" stroke="#a6342c" stroke-width="10" stroke-linejoin="round" stroke-linecap="butt" />
<polyline points="2249.5,214.5 2249.8,234.2 2250.1,253.8 2249.7,273.5 2249.8,293.2 2249.5,312.8 2250.0,332.5 2249.7,352.1 2248.9,371.8 2249.8,391.5 2249.9,411.1 2250.5,430.8 2250.4,450.5 2250.3,470.1 2250.1,489.8 2250.3,509.4 2250.1,529.1 2249.8,548.8 2250.6,568.4 2249.7,588.1 2250.5,607.8 2249.3,627.4 2250.4,647.1 2249.1,666.8 2249.6,686.4 2249.5,706.1 2250.9,725.7 2250.6,745.4 2250.6,765.1 2249.7,784.7 2250.7,804.4 2249.7,824.1 2250.6,843.7 2249.3,863.4 2249.3,883.0 2250.9,902.7 2250.8,922.4 2250.1,942.0 2250.2,961.7 2250.0,981.4 2249.9,1006.1 2249.7,1025.8 2250.7,1045.4 2251.5,1065.1 2250.5,1084.7 2251.8,1104.4 2252.9,1124.1 2253.4,1143.7 2257.9,1163.4 2260.0,1183.1 2260.8,1202.7 2258.8,1222.4 2260.1,1242.0 2258.9,1261.7 2261.9,1281.4 2262.1,1301.0 2268.3,1320.7 2270.7,1340.4 2283.0,1360.0 2291.0,1379.7 2295.2,1399.3 2292.7,1419.0 2284.8,1438.7 2290.2,1458.3 2291.8,1478.0 2291.9,1497.7 2285.5,1517.3 2281.6,1537.0 2275.9,1556.7 2273.6,1576.3 2278.8,1596.0 2281.9,1615.6 2282.2,1635.3 2281.3,1655.0 2276.8,1674.6 2264.6,1694.3 2297.0,1711.5 2955.0,1730.0 2872.0,1750.0 2901.0,1770.0 3420.0,1777.5" fill="none" stroke="#b13a31" stroke-width="10" stroke-linejoin="round" stroke-linecap="butt" />
<polyline points="2249.9,214.5 2249.5,234.2 2249.6,253.8 2249.3,273.5 2250.4,293.2 2249.3,312.8 2249.4,332.5 2250.1,352.1 2250.7,371.8 2249.1,391.5 2249.0,411.1 2249.0,430.8 2249.7,450.5 2250.2,470.1 2250.7,489.8 2250.0,509.4 2249.4,529.1 2249.4,548.8 2250.5,568.4 2249.2,588.1 2249.8,607.8 2249.9,627.4 2249.4,647.1 2249.8,666.8 2249.6,686.4 2250.1,706.1 2249.5,725.7 2249.5,745.4 2249.4,765.1 2250.5,784.7 2250.9,804.4 2249.8,824.1 2250.6,843.7 2250.7,863.4 2250.2,883.0 2250.1,902.7 2250.8,922.4 2250.9,942.0 2250.0,961.7 2249.8,981.4 2250.1,1010.7 2249.3,1030.3 2249.1,1050.0 2249.7,1069.6 2249.8,1089.3 2250.5,1109.0 2252.3,1128.6 2255.0,1148.3 2253.7,1168.0 2253.2,1187.6 2258.5,1207.3 2260.4,1227.0 2264.0,1246.6 2264.3,1266.3 2264.2,1285.9 2266.6,1305.6 2266.4,1325.3 2276.4,1344.9 2280.5,1364.6 2281.5,1384.3 2280.2,1403.9 2278.1,1423.6 2279.5,1443.2 2271.9,1462.9 2281.0,1482.6 2280.9,1502.2 2283.3,1521.9 2278.4,1541.6 2274.7,1561.2 2277.3,1580.9 2275.8,1600.6 2275.7,1620.2 2276.3,1639.9 2265.2,1659.5 2270.6,1679.2 2280.8,1698.9 2264.4,1724.0 2255.0,1745.0 2249.6,1761.0 2250.0,1800.0 2251.0,1885.0" fill="none" stroke="#bc3f36" stroke-width="10" stroke-linejoin="round" stroke-linecap="butt" />
<polyline points="2249.4,214.5 2249.7,234.2 2249.0,253.8 2249.6,273.5 2249.0,293.2 2249.4,312.8 2250.2,332.5 2249.4,352.1 2249.3,371.8 2250.2,391.5 2249.0,411.1 2249.6,430.8 2250.6,450.5 2249.0,470.1 2250.5,489.8 2249.7,509.4 2249.9,529.1 2250.1,548.8 2249.5,568.4 2249.1,588.1 2249.2,607.8 2249.5,627.4 2250.5,647.1 2249.2,666.8 2250.4,686.4 2249.2,706.1 2249.5,725.7 2250.8,745.4 2249.8,765.1 2250.7,784.7 2250.7,804.4 2249.2,824.1 2250.9,843.7 2250.0,863.4 2250.8,883.0 2250.7,902.7 2250.5,922.4 2249.9,942.0 2249.7,961.7 2249.8,981.4 2249.4,1017.2 2250.4,1036.8 2251.5,1056.5 2251.0,1076.2 2250.8,1095.8 2249.8,1115.5 2251.2,1135.1 2251.0,1154.8 2251.0,1174.5 2251.6,1194.1 2256.4,1213.8 2261.2,1233.5 2270.0,1253.1 2270.0,1272.8 2260.2,1292.4 2261.9,1312.1 2264.2,1331.8 2264.1,1351.4 2271.0,1371.1 2273.7,1390.8 2273.1,1410.4 2275.7,1430.1 2283.4,1449.8 2290.9,1469.4 2284.7,1489.1 2281.6,1508.7 2282.7,1528.4 2280.5,1548.1 2278.5,1567.7 2269.2,1587.4 2274.8,1607.1 2281.2,1626.7 2283.3,1646.4 2293.5,1666.0 2290.0,1685.7 2277.8,1705.4 2272.7,1725.0 2277.0,1744.7 2276.6,1764.4 2263.9,1784.0 2256.0,1803.7 2260.1,1823.4 2259.5,1843.0 2257.1,1862.7 2260.0,1882.3" fill="none" stroke="#c8453a" stroke-width="10" stroke-linejoin="round" stroke-linecap="butt" />
<polyline points="2249.5,214.5 2249.4,234.2 2249.7,253.8 2249.6,273.5 2249.0,293.2 2250.5,312.8 2249.7,332.5 2249.6,352.1 2250.1,371.8 2250.2,391.5 2249.9,411.1 2249.0,430.8 2250.4,450.5 2250.8,470.1 2249.3,489.8 2249.1,509.4 2249.4,529.1 2250.0,548.8 2250.0,568.4 2249.1,588.1 2249.7,607.8 2249.8,627.4 2250.8,647.1 2249.3,666.8 2249.3,686.4 2250.3,706.1 2249.9,725.7 2249.3,745.4 2249.5,765.1 2249.8,784.7 2250.8,804.4 2249.9,824.1 2250.5,843.7 2250.2,863.4 2250.4,883.0 2249.3,902.7 2249.4,922.4 2249.5,942.0 2250.0,961.7 2249.4,981.4 2250.8,1013.6 2250.5,1033.3 2251.3,1052.9 2251.3,1072.6 2250.4,1092.3 2250.4,1111.9 2252.4,1131.6 2253.5,1151.2 2251.8,1170.9 2255.8,1190.6 2261.3,1210.2 2261.6,1229.9 2259.1,1249.6 2260.3,1269.2 2258.2,1288.9 2263.6,1308.6 2265.6,1328.2 2271.7,1347.9 2271.1,1367.5 2282.4,1387.2 2286.3,1406.9 2285.4,1426.5 2292.6,1446.2 2300.0,1465.9 2291.7,1485.5 2291.9,1505.2 2289.3,1524.8 2287.5,1544.5 2278.8,1564.2 2277.5,1583.8 2277.3,1603.5 2271.9,1623.2 2274.5,1642.8 2277.2,1662.5 2266.5,1682.2 2272.7,1701.8 2262.7,1721.5 2259.2,1741.1 2262.4,1760.8 2261.0,1780.5 2267.6,1800.1 2272.1,1819.8 2271.8,1839.5 2270.3,1859.1 2269.0,1878.8" fill="none" stroke="#d34b3f" stroke-width="10" stroke-linejoin="round" stroke-linecap="butt" />
<polyline points="2250.2,214.5 2249.0,234.2 2249.4,253.8 2249.4,273.5 2250.3,293.2 2250.5,312.8 2250.7,332.5 2249.9,352.1 2249.0,371.8 2249.2,391.5 2250.1,411.1 2250.7,430.8 2250.2,450.5 2250.4,470.1 2249.7,489.8 2250.1,509.4 2249.1,529.1 2250.7,548.8 2250.3,568.4 2249.1,588.1 2250.4,607.8 2249.8,627.4 2250.2,647.1 2249.4,666.8 2250.4,686.4 2250.8,706.1 2250.1,725.7 2250.4,745.4 2250.8,765.1 2250.6,784.7 2250.7,804.4 2249.6,824.1 2249.5,843.7 2251.0,863.4 2249.3,883.0 2249.5,902.7 2250.7,922.4 2251.0,942.0 2251.0,961.7 2250.7,981.4 2249.9,1002.9 2250.5,1022.6 2250.2,1042.3 2250.3,1061.9 2251.7,1081.6 2251.7,1101.2 2253.0,1120.9 2254.5,1140.6 2257.5,1160.2 2255.7,1179.9 2255.3,1199.6 2259.4,1219.2 2263.6,1238.9 2263.8,1258.5 2264.0,1278.2 2261.9,1297.9 2269.3,1317.5 2269.6,1337.2 2272.8,1356.9 2268.1,1376.5 2271.1,1396.2 2280.5,1415.9 2275.3,1435.5 2275.1,1455.2 2280.3,1474.8 2284.5,1494.5 2282.5,1514.2 2280.2,1533.8 2278.5,1553.5 2270.0,1573.2 2268.9,1592.8 2269.1,1612.5 2272.3,1632.1 2281.4,1651.8 2282.7,1671.5 2290.0,1691.1 2288.7,1710.8 2277.7,1730.5 2282.3,1750.1 2271.1,1769.8 2264.4,1787.6 2542.0,1807.0 3420.0,1815.5" fill="none" stroke="#df5043" stroke-width="10" stroke-linejoin="round" stroke-linecap="butt" />
<polyline points="2249.8,214.5 2249.1,234.2 2250.3,253.8 2249.0,273.5 2250.0,293.2 2249.5,312.8 2250.3,332.5 2250.2,352.1 2249.7,371.8 2250.0,391.5 2250.0,411.1 2250.6,430.8 2250.0,450.5 2250.0,470.1 2249.2,489.8 2250.8,509.4 2250.3,529.1 2249.6,548.8 2250.6,568.4 2249.9,588.1 2249.2,607.8 2249.9,627.4 2249.4,647.1 2250.1,666.8 2250.8,686.4 2250.5,706.1 2250.1,725.7 2250.5,745.4 2249.4,765.1 2249.5,784.7 2250.3,804.4 2250.7,824.1 2249.5,843.7 2249.5,863.4 2249.6,883.0 2250.8,902.7 2250.2,922.4 2250.5,942.0 2249.5,961.7 2249.5,981.4 2249.5,1018.3 2249.3,1038.0 2249.1,1057.6 2249.1,1077.3 2249.3,1097.0 2250.3,1116.6 2251.7,1136.3 2255.1,1156.0 2254.3,1175.6 2251.9,1195.3 2253.3,1214.9 2257.5,1234.6 2260.5,1254.3 2258.1,1273.9 2257.9,1293.6 2259.7,1313.3 2265.5,1332.9 2273.6,1352.6 2287.4,1372.3 2283.8,1391.9 2278.8,1411.6 2285.1,1431.2 2287.9,1450.9 2296.7,1470.6 2294.4,1490.2 2287.1,1509.9 2283.3,1529.6 2285.0,1549.2 2285.8,1568.9 2284.8,1588.5 2289.6,1608.2 2280.9,1627.9 2268.8,1647.5 2275.0,1667.2 2270.0,1686.9 2265.2,1706.5 2263.6,1726.2 2260.8,1745.9 2260.3,1765.5 2263.4,1785.2 2261.2,1804.8 2266.7,1824.5 2264.9,1844.2 2267.4,1863.8 2267.4,1883.5" fill="none" stroke="#ea5648" stroke-width="10" stroke-linejoin="round" stroke-linecap="butt" />
</g>
<rect x="672.5" y="216.5" width="1221.8" height="1651.7" fill="none" stroke="#fff" stroke-width="5.2"/>
<line x1="660.0" x2="672.5" y1="1789.5" y2="1789.5" stroke="#fff" stroke-width="3.2"/>
<line x1="660.0" x2="672.5" y1="1592.9" y2="1592.9" stroke="#fff" stroke-width="3.2"/>
<line x1="660.0" x2="672.5" y1="1396.3" y2="1396.3" stroke="#fff" stroke-width="3.2"/>
<line x1="660.0" x2="672.5" y1="1199.7" y2="1199.7" stroke="#fff" stroke-width="3.2"/>
<line x1="660.0" x2="672.5" y1="1003.0" y2="1003.0" stroke="#fff" stroke-width="3.2"/>
<line x1="660.0" x2="672.5" y1="806.4" y2="806.4" stroke="#fff" stroke-width="3.2"/>
<line x1="660.0" x2="672.5" y1="609.8" y2="609.8" stroke="#fff" stroke-width="3.2"/>
<line x1="660.0" x2="672.5" y1="413.1" y2="413.1" stroke="#fff" stroke-width="3.2"/>
<line x1="660.0" x2="672.5" y1="216.5" y2="216.5" stroke="#fff" stroke-width="3.2"/>
<line x1="783.6" x2="783.6" y1="1868.2" y2="1880.7" stroke="#fff" stroke-width="3.2"/>
<line x1="1005.7" x2="1005.7" y1="1868.2" y2="1880.7" stroke="#fff" stroke-width="3.2"/>
<line x1="1227.9" x2="1227.9" y1="1868.2" y2="1880.7" stroke="#fff" stroke-width="3.2"/>
<line x1="1450.0" x2="1450.0" y1="1868.2" y2="1880.7" stroke="#fff" stroke-width="3.2"/>
<line x1="1672.2" x2="1672.2" y1="1868.2" y2="1880.7" stroke="#fff" stroke-width="3.2"/>
<line x1="1894.3" x2="1894.3" y1="1868.2" y2="1880.7" stroke="#fff" stroke-width="3.2"/>
<rect x="2138.3" y="216.5" width="1222.1" height="1651.7" fill="none" stroke="#fff" stroke-width="5.2"/>
<line x1="2125.8" x2="2138.3" y1="1789.5" y2="1789.5" stroke="#fff" stroke-width="3.2"/>
<line x1="2125.8" x2="2138.3" y1="1592.9" y2="1592.9" stroke="#fff" stroke-width="3.2"/>
<line x1="2125.8" x2="2138.3" y1="1396.3" y2="1396.3" stroke="#fff" stroke-width="3.2"/>
<line x1="2125.8" x2="2138.3" y1="1199.7" y2="1199.7" stroke="#fff" stroke-width="3.2"/>
<line x1="2125.8" x2="2138.3" y1="1003.0" y2="1003.0" stroke="#fff" stroke-width="3.2"/>
<line x1="2125.8" x2="2138.3" y1="806.4" y2="806.4" stroke="#fff" stroke-width="3.2"/>
<line x1="2125.8" x2="2138.3" y1="609.8" y2="609.8" stroke="#fff" stroke-width="3.2"/>
<line x1="2125.8" x2="2138.3" y1="413.1" y2="413.1" stroke="#fff" stroke-width="3.2"/>
<line x1="2125.8" x2="2138.3" y1="216.5" y2="216.5" stroke="#fff" stroke-width="3.2"/>
<line x1="2249.4" x2="2249.4" y1="1868.2" y2="1880.7" stroke="#fff" stroke-width="3.2"/>
<line x1="2471.6" x2="2471.6" y1="1868.2" y2="1880.7" stroke="#fff" stroke-width="3.2"/>
<line x1="2693.8" x2="2693.8" y1="1868.2" y2="1880.7" stroke="#fff" stroke-width="3.2"/>
<line x1="2916.0" x2="2916.0" y1="1868.2" y2="1880.7" stroke="#fff" stroke-width="3.2"/>
<line x1="3138.2" x2="3138.2" y1="1868.2" y2="1880.7" stroke="#fff" stroke-width="3.2"/>
<line x1="3360.4" x2="3360.4" y1="1868.2" y2="1880.7" stroke="#fff" stroke-width="3.2"/>
<rect x="15.8" y="789.2" width="422.2" height="836.5999999999999" rx="7" ry="7" fill="#000" fill-opacity="0.8" stroke="#a6a6a6" stroke-width="3.2"/>
<line x1="25" x2="115.2" y1="820.0" y2="820.0" stroke="#003e64" stroke-width="9.6"/>
<line x1="25" x2="115.2" y1="879.0" y2="879.0" stroke="#00446c" stroke-width="9.6"/>
<line x1="25" x2="115.2" y1="938.1" y2="938.1" stroke="#004a74" stroke-width="9.6"/>
<line x1="25" x2="115.2" y1="997.1" y2="997.1" stroke="#00507c" stroke-width="9.6"/>
<line x1="25" x2="115.2" y1="1056.2" y2="1056.2" stroke="#015684" stroke-width="9.6"/>
<line x1="25" x2="115.2" y1="1115.2" y2="1115.2" stroke="#015c8c" stroke-width="9.6"/>
<line x1="25" x2="115.2" y1="1174.3" y2="1174.3" stroke="#016294" stroke-width="9.6"/>
<line x1="25" x2="115.2" y1="1233.3" y2="1233.3" stroke="#01689c" stroke-width="9.6"/>
<line x1="25" x2="115.2" y1="1292.4" y2="1292.4" stroke="#016ea4" stroke-width="9.6"/>
<line x1="25" x2="115.2" y1="1351.4" y2="1351.4" stroke="#0174ac" stroke-width="9.6"/>
<line x1="25" x2="115.2" y1="1410.5" y2="1410.5" stroke="#027ab4" stroke-width="9.6"/>
<line x1="25" x2="115.2" y1="1469.5" y2="1469.5" stroke="#0280bc" stroke-width="9.6"/>
<line x1="25" x2="115.2" y1="1528.6" y2="1528.6" stroke="#0286c4" stroke-width="9.6"/>
<line x1="25" x2="115.2" y1="1587.7" y2="1587.7" stroke="#028ccc" stroke-width="9.6"/>
<rect x="3380.4" y="729.7" width="418.2999999999997" height="955.3" rx="7" ry="7" fill="#000" fill-opacity="0.8" stroke="#a6a6a6" stroke-width="3.2"/>
<line x1="3391.3" x2="3480.7" y1="760.7" y2="760.7" stroke="#3f0103" stroke-width="9.6"/>
<line x1="3391.3" x2="3480.7" y1="819.8" y2="819.8" stroke="#4a0708" stroke-width="9.6"/>
<line x1="3391.3" x2="3480.7" y1="878.8" y2="878.8" stroke="#560c0c" stroke-width="9.6"/>
<line x1="3391.3" x2="3480.7" y1="937.9" y2="937.9" stroke="#611211" stroke-width="9.6"/>
<line x1="3391.3" x2="3480.7" y1="996.9" y2="996.9" stroke="#6d1815" stroke-width="9.6"/>
<line x1="3391.3" x2="3480.7" y1="1056.0" y2="1056.0" stroke="#781d1a" stroke-width="9.6"/>
<line x1="3391.3" x2="3480.7" y1="1115.0" y2="1115.0" stroke="#83231f" stroke-width="9.6"/>
<line x1="3391.3" x2="3480.7" y1="1174.0" y2="1174.0" stroke="#8f2923" stroke-width="9.6"/>
<line x1="3391.3" x2="3480.7" y1="1233.1" y2="1233.1" stroke="#9a2e28" stroke-width="9.6"/>
<line x1="3391.3" x2="3480.7" y1="1292.2" y2="1292.2" stroke="#a6342c" stroke-width="9.6"/>
<line x1="3391.3" x2="3480.7" y1="1351.2" y2="1351.2" stroke="#b13a31" stroke-width="9.6"/>
<line x1="3391.3" x2="3480.7" y1="1410.2" y2="1410.2" stroke="#bc3f36" stroke-width="9.6"/>
<line x1="3391.3" x2="3480.7" y1="1469.3" y2="1469.3" stroke="#c8453a" stroke-width="9.6"/>
<line x1="3391.3" x2="3480.7" y1="1528.3" y2="1528.3" stroke="#d34b3f" stroke-width="9.6"/>
<line x1="3391.3" x2="3480.7" y1="1587.4" y2="1587.4" stroke="#df5043" stroke-width="9.6"/>
<line x1="3391.3" x2="3480.7" y1="1646.5" y2="1646.5" stroke="#ea5648" stroke-width="9.6"/>
<line x1="39.8" x2="120" y1="1979.9" y2="1979.9" stroke="#fff" stroke-width="10.4" stroke-dasharray="37 16"/>
<line x1="39.8" x2="120" y1="2040" y2="2040" stroke="#fff" stroke-width="10.4" stroke-dasharray="10 16.5"/>
<rect x="40" y="2085" width="81" height="29" fill="#676a6f" stroke="#9c9fa3" stroke-width="2.5"/>
<text x="593.05" y="1805.35" font-family='"Liberation Sans"' font-size="45" font-weight="normal" fill="#fff" textLength="53.55" lengthAdjust="spacingAndGlyphs">10</text>
<text x="593.05" y="1608.72" font-family='"Liberation Sans"' font-size="45" font-weight="normal" fill="#fff" textLength="53.55" lengthAdjust="spacingAndGlyphs">15</text>
<text x="593.05" y="1412.09" font-family='"Liberation Sans"' font-size="45" font-weight="normal" fill="#fff" textLength="53.55" lengthAdjust="spacingAndGlyphs">20</text>
<text x="593.05" y="1215.45" font-family='"Liberation Sans"' font-size="45" font-weight="normal" fill="#fff" textLength="53.55" lengthAdjust="spacingAndGlyphs">25</text>
<text x="593.05" y="1018.82" font-family='"Liberation Sans"' font-size="45" font-weight="normal" fill="#fff" textLength="53.55" lengthAdjust="spacingAndGlyphs">30</text>
<text x="593.05" y="822.19" font-family='"Liberation Sans"' font-size="45" font-weight="normal" fill="#fff" textLength="53.55" lengthAdjust="spacingAndGlyphs">35</text>
<text x="593.05" y="625.56" font-family='"Liberation Sans"' font-size="45" font-weight="normal" fill="#fff" textLength="53.55" lengthAdjust="spacingAndGlyphs">40</text>
<text x="593.05" y="428.93" font-family='"Liberation Sans"' font-size="45" font-weight="normal" fill="#fff" textLength="53.55" lengthAdjust="spacingAndGlyphs">45</text>
<text x="593.05" y="232.30" font-family='"Liberation Sans"' font-size="45" font-weight="normal" fill="#fff" textLength="53.55" lengthAdjust="spacingAndGlyphs">50</text>
<text x="723.35" y="1926.60" font-family='"Liberation Sans"' font-size="45" font-weight="normal" fill="#fff" textLength="120.47" lengthAdjust="spacingAndGlyphs">0.000</text>
<text x="946.03" y="1926.60" font-family='"Liberation Sans"' font-size="45" font-weight="normal" fill="#fff" textLength="120.47" lengthAdjust="spacingAndGlyphs">0.002</text>
<text x="1167.64" y="1926.60" font-family='"Liberation Sans"' font-size="45" font-weight="normal" fill="#fff" textLength="120.47" lengthAdjust="spacingAndGlyphs">0.004</text>
<text x="1389.79" y="1926.60" font-family='"Liberation Sans"' font-size="45" font-weight="normal" fill="#fff" textLength="120.47" lengthAdjust="spacingAndGlyphs">0.006</text>
<text x="1611.93" y="1926.60" font-family='"Liberation Sans"' font-size="45" font-weight="normal" fill="#fff" textLength="120.47" lengthAdjust="spacingAndGlyphs">0.008</text>
<text x="1834.08" y="1926.60" font-family='"Liberation Sans"' font-size="45" font-weight="normal" fill="#fff" textLength="120.47" lengthAdjust="spacingAndGlyphs">0.010</text>
<text x="852.70" y="2002.20" font-family='"Liberation Sans"' font-size="59.5" font-weight="normal" fill="#fff" textLength="216.96" lengthAdjust="spacingAndGlyphs">Aerosol</text>
<text x="1087.32" y="2002.20" font-family='"Liberation Sans"' font-size="59.5" font-weight="normal" fill="#fff" textLength="289.15" lengthAdjust="spacingAndGlyphs">Extinction</text>
<text x="1394.40" y="2002.20" font-family='"Liberation Sans"' font-size="59.5" font-weight="normal" fill="#fff" textLength="317.17" lengthAdjust="spacingAndGlyphs">Coefficient</text>
<text x="1185.99" y="2076.80" font-family='"Liberation Sans"' font-size="59.5" font-weight="normal" fill="#fff" textLength="19.46" lengthAdjust="spacingAndGlyphs">[</text>
<text x="1209.66" y="2076.80" font-family='"Liberation Sans"' font-size="59.5" font-weight="normal" fill="#fff" textLength="90.09" lengthAdjust="spacingAndGlyphs">km</text>
<text x="1302.98" y="2055.00" font-family='"Liberation Serif"' font-size="41" font-weight="normal" fill="#fff" textLength="29.13" lengthAdjust="spacingAndGlyphs">−</text>
<text x="1334.97" y="2055.00" font-family='"Liberation Serif"' font-size="41" font-weight="normal" fill="#fff" textLength="17.94" lengthAdjust="spacingAndGlyphs">1</text>
<text x="1363.20" y="2076.80" font-family='"Liberation Sans"' font-size="59.5" font-weight="normal" fill="#fff" textLength="19.46" lengthAdjust="spacingAndGlyphs">]</text>
<text transform="translate(557.80,1233.60) rotate(-90)" x="0" y="0" font-family='"Liberation Sans"' font-size="60" font-weight="normal" fill="#fff" textLength="229.31" lengthAdjust="spacingAndGlyphs">Altitude</text>
<text transform="translate(557.80,988.36) rotate(-90)" x="0" y="0" font-family='"Liberation Sans"' font-size="60" font-weight="normal" fill="#fff" textLength="137.61" lengthAdjust="spacingAndGlyphs">[km]</text>
<text x="2058.85" y="1805.35" font-family='"Liberation Sans"' font-size="45" font-weight="normal" fill="#fff" textLength="53.55" lengthAdjust="spacingAndGlyphs">10</text>
<text x="2058.85" y="1608.72" font-family='"Liberation Sans"' font-size="45" font-weight="normal" fill="#fff" textLength="53.55" lengthAdjust="spacingAndGlyphs">15</text>
<text x="2058.85" y="1412.09" font-family='"Liberation Sans"' font-size="45" font-weight="normal" fill="#fff" textLength="53.55" lengthAdjust="spacingAndGlyphs">20</text>
<text x="2058.85" y="1215.45" font-family='"Liberation Sans"' font-size="45" font-weight="normal" fill="#fff" textLength="53.55" lengthAdjust="spacingAndGlyphs">25</text>
<text x="2058.85" y="1018.82" font-family='"Liberation Sans"' font-size="45" font-weight="normal" fill="#fff" textLength="53.55" lengthAdjust="spacingAndGlyphs">30</text>
<text x="2058.85" y="822.19" font-family='"Liberation Sans"' font-size="45" font-weight="normal" fill="#fff" textLength="53.55" lengthAdjust="spacingAndGlyphs">35</text>
<text x="2058.85" y="625.56" font-family='"Liberation Sans"' font-size="45" font-weight="normal" fill="#fff" textLength="53.55" lengthAdjust="spacingAndGlyphs">40</text>
<text x="2058.85" y="428.93" font-family='"Liberation Sans"' font-size="45" font-weight="normal" fill="#fff" textLength="53.55" lengthAdjust="spacingAndGlyphs">45</text>
<text x="2058.85" y="232.30" font-family='"Liberation Sans"' font-size="45" font-weight="normal" fill="#fff" textLength="53.55" lengthAdjust="spacingAndGlyphs">50</text>
<text x="2189.18" y="1926.60" font-family='"Liberation Sans"' font-size="45" font-weight="normal" fill="#fff" textLength="120.47" lengthAdjust="spacingAndGlyphs">0.000</text>
<text x="2411.92" y="1926.60" font-family='"Liberation Sans"' font-size="45" font-weight="normal" fill="#fff" textLength="120.47" lengthAdjust="spacingAndGlyphs">0.002</text>
<text x="2633.58" y="1926.60" font-family='"Liberation Sans"' font-size="45" font-weight="normal" fill="#fff" textLength="120.47" lengthAdjust="spacingAndGlyphs">0.004</text>
<text x="2855.78" y="1926.60" font-family='"Liberation Sans"' font-size="45" font-weight="normal" fill="#fff" textLength="120.47" lengthAdjust="spacingAndGlyphs">0.006</text>
<text x="3077.98" y="1926.60" font-family='"Liberation Sans"' font-size="45" font-weight="normal" fill="#fff" textLength="120.47" lengthAdjust="spacingAndGlyphs">0.008</text>
<text x="3300.18" y="1926.60" font-family='"Liberation Sans"' font-size="45" font-weight="normal" fill="#fff" textLength="120.47" lengthAdjust="spacingAndGlyphs">0.010</text>
<text x="2318.65" y="2002.20" font-family='"Liberation Sans"' font-size="59.5" font-weight="normal" fill="#fff" textLength="216.96" lengthAdjust="spacingAndGlyphs">Aerosol</text>
<text x="2553.27" y="2002.20" font-family='"Liberation Sans"' font-size="59.5" font-weight="normal" fill="#fff" textLength="289.15" lengthAdjust="spacingAndGlyphs">Extinction</text>
<text x="2860.35" y="2002.20" font-family='"Liberation Sans"' font-size="59.5" font-weight="normal" fill="#fff" textLength="317.17" lengthAdjust="spacingAndGlyphs">Coefficient</text>
<text x="2651.94" y="2076.80" font-family='"Liberation Sans"' font-size="59.5" font-weight="normal" fill="#fff" textLength="19.46" lengthAdjust="spacingAndGlyphs">[</text>
<text x="2675.61" y="2076.80" font-family='"Liberation Sans"' font-size="59.5" font-weight="normal" fill="#fff" textLength="90.09" lengthAdjust="spacingAndGlyphs">km</text>
<text x="2768.93" y="2055.00" font-family='"Liberation Serif"' font-size="41" font-weight="normal" fill="#fff" textLength="29.13" lengthAdjust="spacingAndGlyphs">−</text>
<text x="2800.93" y="2055.00" font-family='"Liberation Serif"' font-size="41" font-weight="normal" fill="#fff" textLength="17.94" lengthAdjust="spacingAndGlyphs">1</text>
<text x="2829.15" y="2076.80" font-family='"Liberation Sans"' font-size="59.5" font-weight="normal" fill="#fff" textLength="19.46" lengthAdjust="spacingAndGlyphs">]</text>
<text transform="translate(2023.60,1233.60) rotate(-90)" x="0" y="0" font-family='"Liberation Sans"' font-size="60" font-weight="normal" fill="#fff" textLength="229.31" lengthAdjust="spacingAndGlyphs">Altitude</text>
<text transform="translate(2023.60,988.36) rotate(-90)" x="0" y="0" font-family='"Liberation Sans"' font-size="60" font-weight="normal" fill="#fff" textLength="137.61" lengthAdjust="spacingAndGlyphs">[km]</text>
<text x="1158.97" y="195.80" font-family='"Liberation Sans"' font-size="66" font-weight="bold" fill="#fff" textLength="249.08" lengthAdjust="spacingAndGlyphs">Sunrise</text>
<text x="2636.99" y="195.80" font-family='"Liberation Sans"' font-size="66" font-weight="bold" fill="#fff" textLength="222.99" lengthAdjust="spacingAndGlyphs">Sunset</text>
<text x="1191.43" y="101.70" font-family='"Liberation Serif"' font-size="80" font-weight="bold" fill="#fff" textLength="218.14" lengthAdjust="spacingAndGlyphs">III/I</text>
<text x="943.17" y="101.70" font-family='"Liberation Sans"' font-size="80" font-weight="bold" fill="#fff" textLength="218.50" lengthAdjust="spacingAndGlyphs">SAGE</text>
<text x="1413.81" y="101.70" font-family='"Liberation Sans"' font-size="80" font-weight="bold" fill="#fff" textLength="100.71" lengthAdjust="spacingAndGlyphs">SS</text>
<text x="1541.32" y="101.70" font-family='"Liberation Sans"' font-size="80" font-weight="bold" fill="#fff" textLength="314.75" lengthAdjust="spacingAndGlyphs">1021nm</text>
<text x="1879.53" y="101.70" font-family='"Liberation Sans"' font-size="80" font-weight="bold" fill="#fff" textLength="307.97" lengthAdjust="spacingAndGlyphs">Aerosol</text>
<text x="2214.50" y="101.70" font-family='"Liberation Sans"' font-size="80" font-weight="bold" fill="#fff" textLength="409.96" lengthAdjust="spacingAndGlyphs">Extinction</text>
<text x="2649.82" y="101.70" font-family='"Liberation Sans"' font-size="80" font-weight="bold" fill="#fff" textLength="438.26" lengthAdjust="spacingAndGlyphs">Coefficient</text>
<text x="1635.03" y="190.30" font-family='"Liberation Sans"' font-size="80" font-weight="bold" fill="#fff" textLength="87.43" lengthAdjust="spacingAndGlyphs">25</text>
<text x="1752.80" y="190.30" font-family='"Liberation Sans"' font-size="80" font-weight="bold" fill="#fff" textLength="422.73" lengthAdjust="spacingAndGlyphs">November</text>
<text x="2201.75" y="190.30" font-family='"Liberation Sans"' font-size="80" font-weight="bold" fill="#fff" textLength="191.00" lengthAdjust="spacingAndGlyphs">2024</text>
<text x="143.59" y="833.60" font-family='"Liberation Sans"' font-size="39" font-weight="normal" fill="#fff" textLength="271.89" lengthAdjust="spacingAndGlyphs">2024112503SR</text>
<text x="143.59" y="892.65" font-family='"Liberation Sans"' font-size="39" font-weight="normal" fill="#fff" textLength="271.89" lengthAdjust="spacingAndGlyphs">2024112506SR</text>
<text x="143.59" y="951.70" font-family='"Liberation Sans"' font-size="39" font-weight="normal" fill="#fff" textLength="271.89" lengthAdjust="spacingAndGlyphs">2024112509SR</text>
<text x="143.59" y="1010.75" font-family='"Liberation Sans"' font-size="39" font-weight="normal" fill="#fff" textLength="271.89" lengthAdjust="spacingAndGlyphs">2024112512SR</text>
<text x="143.59" y="1069.80" font-family='"Liberation Sans"' font-size="39" font-weight="normal" fill="#fff" textLength="271.89" lengthAdjust="spacingAndGlyphs">2024112515SR</text>
<text x="143.59" y="1128.85" font-family='"Liberation Sans"' font-size="39" font-weight="normal" fill="#fff" textLength="271.89" lengthAdjust="spacingAndGlyphs">2024112518SR</text>
<text x="143.59" y="1187.90" font-family='"Liberation Sans"' font-size="39" font-weight="normal" fill="#fff" textLength="271.89" lengthAdjust="spacingAndGlyphs">2024112521SR</text>
<text x="143.59" y="1246.95" font-family='"Liberation Sans"' font-size="39" font-weight="normal" fill="#fff" textLength="271.89" lengthAdjust="spacingAndGlyphs">2024112524SR</text>
<text x="143.59" y="1306.00" font-family='"Liberation Sans"' font-size="39" font-weight="normal" fill="#fff" textLength="271.89" lengthAdjust="spacingAndGlyphs">2024112527SR</text>
<text x="143.59" y="1365.05" font-family='"Liberation Sans"' font-size="39" font-weight="normal" fill="#fff" textLength="271.89" lengthAdjust="spacingAndGlyphs">2024112531SR</text>
<text x="143.59" y="1424.10" font-family='"Liberation Sans"' font-size="39" font-weight="normal" fill="#fff" textLength="271.89" lengthAdjust="spacingAndGlyphs">2024112534SR</text>
<text x="143.59" y="1483.15" font-family='"Liberation Sans"' font-size="39" font-weight="normal" fill="#fff" textLength="271.89" lengthAdjust="spacingAndGlyphs">2024112537SR</text>
<text x="143.59" y="1542.20" font-family='"Liberation Sans"' font-size="39" font-weight="normal" fill="#fff" textLength="271.89" lengthAdjust="spacingAndGlyphs">2024112540SR</text>
<text x="143.59" y="1601.25" font-family='"Liberation Sans"' font-size="39" font-weight="normal" fill="#fff" textLength="271.89" lengthAdjust="spacingAndGlyphs">2024112543SR</text>
<text x="3509.88" y="774.30" font-family='"Liberation Sans"' font-size="39" font-weight="normal" fill="#fff" textLength="270.14" lengthAdjust="spacingAndGlyphs">2024112502SS</text>
<text x="3509.88" y="833.35" font-family='"Liberation Sans"' font-size="39" font-weight="normal" fill="#fff" textLength="270.14" lengthAdjust="spacingAndGlyphs">2024112505SS</text>
<text x="3509.88" y="892.40" font-family='"Liberation Sans"' font-size="39" font-weight="normal" fill="#fff" textLength="270.14" lengthAdjust="spacingAndGlyphs">2024112508SS</text>
<text x="3509.88" y="951.45" font-family='"Liberation Sans"' font-size="39" font-weight="normal" fill="#fff" textLength="267.20" lengthAdjust="spacingAndGlyphs">2024112511SS</text>
<text x="3509.88" y="1010.50" font-family='"Liberation Sans"' font-size="39" font-weight="normal" fill="#fff" textLength="270.14" lengthAdjust="spacingAndGlyphs">2024112514SS</text>
<text x="3509.88" y="1069.55" font-family='"Liberation Sans"' font-size="39" font-weight="normal" fill="#fff" textLength="270.14" lengthAdjust="spacingAndGlyphs">2024112517SS</text>
<text x="3509.88" y="1128.60" font-family='"Liberation Sans"' font-size="39" font-weight="normal" fill="#fff" textLength="270.14" lengthAdjust="spacingAndGlyphs">2024112520SS</text>
<text x="3509.88" y="1187.65" font-family='"Liberation Sans"' font-size="39" font-weight="normal" fill="#fff" textLength="270.14" lengthAdjust="spacingAndGlyphs">2024112523SS</text>
<text x="3509.88" y="1246.70" font-family='"Liberation Sans"' font-size="39" font-weight="normal" fill="#fff" textLength="270.14" lengthAdjust="spacingAndGlyphs">2024112526SS</text>
<text x="3509.88" y="1305.75" font-family='"Liberation Sans"' font-size="39" font-weight="normal" fill="#fff" textLength="270.14" lengthAdjust="spacingAndGlyphs">2024112529SS</text>
<text x="3509.88" y="1364.80" font-family='"Liberation Sans"' font-size="39" font-weight="normal" fill="#fff" textLength="270.14" lengthAdjust="spacingAndGlyphs">2024112530SS</text>
<text x="3509.88" y="1423.85" font-family='"Liberation Sans"' font-size="39" font-weight="normal" fill="#fff" textLength="270.14" lengthAdjust="spacingAndGlyphs">2024112533SS</text>
<text x="3509.88" y="1482.90" font-family='"Liberation Sans"' font-size="39" font-weight="normal" fill="#fff" textLength="270.14" lengthAdjust="spacingAndGlyphs">2024112536SS</text>
<text x="3509.88" y="1541.95" font-family='"Liberation Sans"' font-size="39" font-weight="normal" fill="#fff" textLength="270.14" lengthAdjust="spacingAndGlyphs">2024112539SS</text>
<text x="3509.88" y="1601.00" font-family='"Liberation Sans"' font-size="39" font-weight="normal" fill="#fff" textLength="270.14" lengthAdjust="spacingAndGlyphs">2024112542SS</text>
<text x="3509.88" y="1660.05" font-family='"Liberation Sans"' font-size="39" font-weight="normal" fill="#fff" textLength="270.14" lengthAdjust="spacingAndGlyphs">2024112545SS</text>
<text x="152.33" y="1994.00" font-family='"Liberation Sans"' font-size="41" font-weight="normal" fill="#fff" textLength="349.87" lengthAdjust="spacingAndGlyphs">Mean Tropopause</text>
<text x="152.32" y="2053.50" font-family='"Liberation Sans"' font-size="41" font-weight="normal" fill="#fff" textLength="384.99" lengthAdjust="spacingAndGlyphs">Median Tropopause</text>
<text x="153.90" y="2113.00" font-family='"Liberation Sans"' font-size="41" font-weight="normal" fill="#fff" textLength="366.99" lengthAdjust="spacingAndGlyphs">Tropopause Range</text>
<text x="3268.39" y="2038.80" font-family='"Liberation Sans"' font-size="34.5" font-weight="normal" fill="#8a8a8a" textLength="87.43" lengthAdjust="spacingAndGlyphs">SAGE</text>
<text x="3450.15" y="2038.80" font-family='"Liberation Sans"' font-size="34.5" font-weight="normal" fill="#8a8a8a" textLength="39.00" lengthAdjust="spacingAndGlyphs">SS</text>
<text x="3500.86" y="2038.80" font-family='"Liberation Sans"' font-size="34.5" font-weight="normal" fill="#8a8a8a" textLength="119.06" lengthAdjust="spacingAndGlyphs">Mission</text>
<text x="3626.50" y="2038.80" font-family='"Liberation Sans"' font-size="34.5" font-weight="normal" fill="#8a8a8a" textLength="12.25" lengthAdjust="spacingAndGlyphs">|</text>
<text x="3647.05" y="2038.80" font-family='"Liberation Sans"' font-size="34.5" font-weight="normal" fill="#8a8a8a" textLength="91.56" lengthAdjust="spacingAndGlyphs">NASA</text>
<text x="3750.26" y="2038.80" font-family='"Liberation Sans"' font-size="34.5" font-weight="normal" fill="#8a8a8a" textLength="85.63" lengthAdjust="spacingAndGlyphs">LaRC</text>
<text x="3367.53" y="2038.80" font-family='"Liberation Serif"' font-size="34.5" font-weight="normal" fill="#8a8a8a" textLength="75.94" lengthAdjust="spacingAndGlyphs">III/I</text>
<text x="3312.53" y="2076.80" font-family='"Liberation Sans"' font-size="34.5" font-weight="normal" fill="#8a8a8a" textLength="523.91" lengthAdjust="spacingAndGlyphs">Preparer: Kevin R. Leavor (AMA)</text>
<text x="3389.30" y="2113.60" font-family='"Liberation Sans"' font-size="34.5" font-weight="normal" fill="#8a8a8a" textLength="446.29" lengthAdjust="spacingAndGlyphs">Generated 2025-07-17 22:25</text>
<text x="3533.85" y="2150.20" font-family='"Liberation Sans"' font-size="34.5" font-weight="normal" fill="#8a8a8a" textLength="301.17" lengthAdjust="spacingAndGlyphs">Data Version: 6.0.0</text>
<g id="logo">
<path d="M3494.0,222.5 L3494.0,54.0 Q3494.0,18.0 3530.0,18.0 L3794.0,18.0 Q3830.0,18.0 3830.0,54.0 L3830.0,222.5 A168.0,168.0 0 0 1 3494.0,222.5 Z" fill="#e05a48"/>
<path d="M3501.0,222.5 L3501.0,60.5 Q3501.0,24.5 3537.0,24.5 L3787.0,24.5 Q3823.0,24.5 3823.0,60.5 L3823.0,222.5 A161.0,161.0 0 0 1 3501.0,222.5 Z" fill="#005282"/>
<clipPath id="disk"><circle cx="3662.0" cy="220.5" r="127"/></clipPath>
<circle cx="3662.0" cy="220.5" r="127" fill="#00527f"/>
<g clip-path="url(#disk)">
<circle cx="3405.0" cy="425.0" r="351" fill="#0d6ba0"/>
<circle cx="3405.0" cy="425.0" r="333" fill="#00558f"/>
<path d="M3560,110 L3600,140 L3640,178 L3663,230 L3664,249 L3670,267 L3654,259 L3643,271 L3642,284 L3648,298 L3658,303 L3666,292 L3670,303 L3684,313 L3691,309 L3695,298 L3708,292 L3729,323 L3742,350 L3697,350 L3695,317 L3679,313 L3660,310 L3640,312 L3619,300 L3605,290 L3590,250 L3560,200 Z" fill="#529b64"/>
<path d="M3650,232 L3660,236 L3664,246 L3656,250 L3648,244 Z" fill="#00558f"/>
</g>
<circle cx="3662.0" cy="220.5" r="134.0" fill="none" stroke="#c8ccd6" stroke-width="14"/>
<circle cx="3636.5" cy="145.3" r="23.4" fill="#e6e7ea"/>
<path d="M3640,135 q6,-2 8,4 q-2,6 -7,5 q-4,-3 -1,-9 Z M3628,150 q5,-3 8,2 q0,6 -6,6 q-4,-3 -2,-8 Z M3645,152 q5,0 5,5 q-3,5 -7,2 Z" fill="#c9ccd2"/>
<circle cx="3628" cy="132" r="3" fill="none" stroke="#d2d5da" stroke-width="1"/>
<circle cx="3735.8" cy="280.6" r="23.2" fill="#fde2a6"/>
<path d="M3728,258.5 A23.2,23.2 0 0 0 3735.8,303.8 A30,30 0 0 1 3728,258.5 Z" fill="#d9d7d3"/>
<path d="M3693.0,106.5 L3695.09,113.91 L3702.5,116.0 L3695.09,118.09 L3693.0,125.5 L3690.91,118.09 L3683.5,116.0 L3690.91,113.91 Z" fill="#f6d47a"/>
<path d="M3680.0,121.5 L3681.32,126.18 L3686.0,127.5 L3681.32,128.82 L3680.0,133.5 L3678.68,128.82 L3674.0,127.5 L3678.68,126.18 Z" fill="#ffffff"/>
<path d="M3703.6,126.9 L3704.5899999999997,130.41 L3708.1,131.4 L3704.5899999999997,132.39000000000001 L3703.6,135.9 L3702.61,132.39000000000001 L3699.1,131.4 L3702.61,130.41 Z" fill="#ffffff"/>
<line x1="3600" y1="142" x2="3652" y2="172" stroke="#e8f2ff" stroke-width="1.1"/>
<line x1="3654" y1="160" x2="3716" y2="190" stroke="#e8f2ff" stroke-width="1.1"/>
<line x1="3648" y1="166" x2="3716" y2="190" stroke="#e8f2ff" stroke-width="1.1"/>
<line x1="3716" y1="192" x2="3672" y2="226" stroke="#e8f2ff" stroke-width="1.1"/>
<line x1="3716" y1="192" x2="3678" y2="232" stroke="#e8f2ff" stroke-width="1.1"/>
<line x1="3717" y1="192" x2="3722" y2="256" stroke="#e8f2ff" stroke-width="1.1"/>
<line x1="3717" y1="192" x2="3734" y2="257" stroke="#e8f2ff" stroke-width="1.1"/>
<line x1="3610" y1="150" x2="3740" y2="340" stroke="#e8f2ff" stroke-width="1.1"/>
<g transform="translate(3727,178) rotate(35)" fill="#bfc2c8">
<rect x="-30" y="-14" width="5" height="12" />
<rect x="-30" y="2" width="5" height="12" />
<rect x="-22" y="-14" width="5" height="12" />
<rect x="-22" y="2" width="5" height="12" />
<rect x="18" y="-14" width="5" height="12" />
<rect x="18" y="2" width="5" height="12" />
<rect x="26" y="-14" width="5" height="12" />
<rect x="26" y="2" width="5" height="12" />
<rect x="-32" y="-2" width="64" height="3"/><rect x="-6" y="-8" width="12" height="16" fill="#d3d5da"/>
</g>
<clipPath id="pin"><path d="M3501.0,222.5 L3501.0,60.5 Q3501.0,24.5 3537.0,24.5 L3787.0,24.5 Q3823.0,24.5 3823.0,60.5 L3823.0,222.5 A161.0,161.0 0 0 1 3501.0,222.5 Z"/></clipPath>
<g clip-path="url(#pin)">
<path d="M3540,156 L3521,176 L3509,211 L3502,238 L3503,244 L3521,229 L3538,204 Z" fill="#c23c2b"/>
<path d="M3530,170 L3512,205 L3505,236 L3520,222 L3528,200 Z" fill="#8a1f17"/>
<path d="M3540,152 L3565,146 L3600,160 L3607,170 L3606,200 L3605,260 L3605.5,332 L3580,333 L3548,326 L3542,290 L3538,245 L3537,200 Z" fill="#cd4634"/>
<path d="M3552,228 L3558,228 L3560,320 L3553,318 Z M3570,230 L3577,230 L3582,330 L3574,330 Z M3590,232 L3596,232 L3600,330 L3593,330 Z" fill="#8a1f17"/>
<path d="M3560,170 L3600,178 L3604,200 L3590,205 L3565,200 Z" fill="#d9573f"/>
<path d="M3555,207 L3580,212 L3605.5,214 L3605.5,223 L3580,221 L3555,216 Z" fill="#7a3a1c"/>
<polygon points="3593.4,214 3601,218.5 3601,227.5 3593.4,232 3585.8,227.5 3585.8,218.5" fill="#6a2c14" stroke="#c8914f" stroke-width="1.2"/>
<path d="M3560,136 L3572,128 L3592,124 L3606,130 L3608,141 L3600,140 L3590,142 L3580,150 L3570,160 L3562,150 Z" fill="#f5f2ee"/>
<path d="M3584,137 L3604,140 L3605,158 L3596,164 L3586,160 Z" fill="#d9a06c"/>
<path d="M3566,150 L3580,150 L3588,160 L3600,158 L3603,170 L3600,188 L3590,196 L3578,190 L3570,176 Z" fill="#f8f6f2"/>
<path d="M3534.7,122.8 L3546.8,210.8 L3552,245 L3560.6,271 L3564,300" fill="none" stroke="#b77a36" stroke-width="3.8"/>
<ellipse cx="3537" cy="183" rx="6.5" ry="6" fill="#e8b78a"/>
<path d="M3606,168 L3618,170 L3616,190 L3604,188 Z" fill="#7a3518"/>
<ellipse cx="3609" cy="185" rx="5" ry="5" fill="#e8b78a"/>
<circle cx="3532" cy="113.3" r="10.4" fill="#d6d9de" stroke="#f6f6f6" stroke-width="1.4"/>
</g>
<line x1="3604" y1="150" x2="3617" y2="160" stroke="#e8f2ff" stroke-width="1.1"/>
<text x="3528" y="59.4" font-family='"Liberation Serif", serif' font-weight="bold" font-size="40" fill="#fff" textLength="265" lengthAdjust="spacingAndGlyphs">SAGE III • ISS</text>
<text x="3528.2" y="72" font-family='"Liberation Sans", sans-serif' font-size="8.6" fill="#e8f0ff" textLength="172.6" lengthAdjust="spacingAndGlyphs">Stratospheric Aerosol and Gas Experiment III</text>
<text x="3737" y="72" font-family='"Liberation Sans", sans-serif' font-size="8.6" fill="#e8f0ff" textLength="52.5" lengthAdjust="spacingAndGlyphs">International</text>
<text x="3733.6" y="83" font-family='"Liberation Sans", sans-serif' font-size="8.6" fill="#e8f0ff" textLength="59.4" lengthAdjust="spacingAndGlyphs">Space Station</text>
<path id="arcp" d="M3510.3,258.9 A156.0,156.0 0 0 0 3817.6,233.4" fill="none"/>
<text font-family='"Liberation Sans", sans-serif' font-weight="bold" font-size="15.5" fill="#fff"><textPath href="#arcp" textLength="442.4" lengthAdjust="spacingAndGlyphs">BALL • NASA LANGLEY RESEARCH CENTER • TAS-I • ESA</textPath></text>
</g>
</svg>
</body></html>
